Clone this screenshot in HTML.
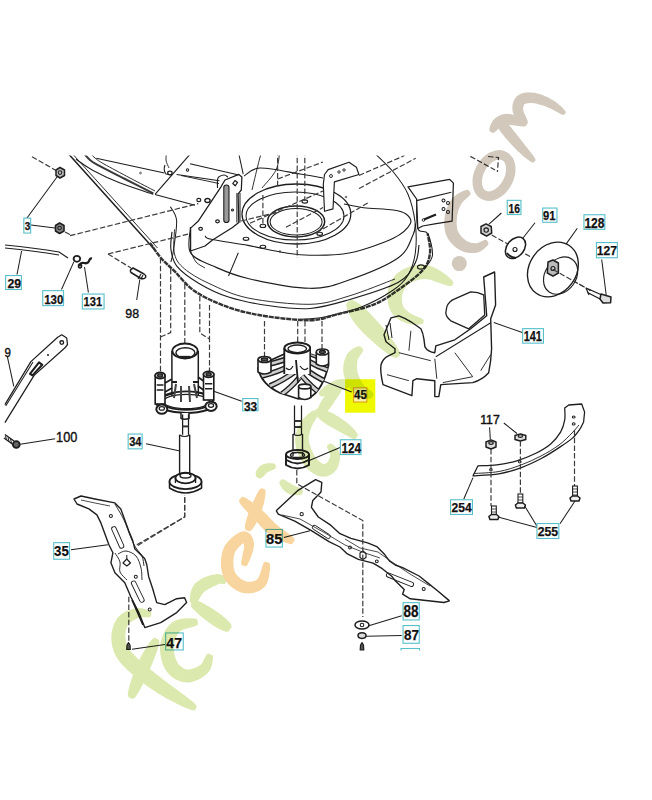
<!DOCTYPE html>
<html><head><meta charset="utf-8"><style>
html,body{margin:0;padding:0;background:#fff;width:652px;height:800px;overflow:hidden;}
svg{display:block;}
</style></head><body>
<svg width="652" height="800" viewBox="0 0 652 800">
<clipPath id="topclip"><rect x="0" y="155.5" width="652" height="700"/></clipPath>
<g clip-path="url(#topclip)">
<path d="M65,150 L155,250" fill="none" stroke="#1e1e1e" stroke-width="1.49" stroke-linejoin="round" />
<path d="M69,150 L157.5,248" fill="none" stroke="#1e1e1e" stroke-width="0.92" stroke-linejoin="round" />
<path d="M81.0,150.0 C82.5,151.7 87.0,157.4 90.0,160.0 C93.0,162.6 93.2,162.4 99.0,165.6 C104.8,168.8 116.0,174.4 125.0,179.0 C134.1,183.6 148.6,190.9 153.3,193.3" fill="none" stroke="#3a3a3a" stroke-width="2.00" stroke-linejoin="round" />
<path d="M87.0,150.0 C88.3,151.3 92.2,155.7 95.0,158.0 C97.8,160.3 98.2,160.7 104.0,164.0 C109.8,167.3 121.5,173.5 130.0,178.0 C138.5,182.5 150.8,188.8 155.0,191.0" fill="none" stroke="#1e1e1e" stroke-width="0.92" stroke-linejoin="round" />
<path d="M76.0,159.2 C78.8,161.0 85.2,166.2 92.6,170.2 C100.0,174.2 110.1,179.1 120.2,183.1 C130.3,187.1 147.8,192.3 153.3,194.2" fill="none" stroke="#1e1e1e" stroke-width="1.03" stroke-linejoin="round" />
<path d="M96.3,158.3 L164.4,173" fill="none" stroke="#1e1e1e" stroke-width="1.15" stroke-linejoin="round" />
<path d="M155,194.5 L195,205.2" fill="none" stroke="#1e1e1e" stroke-width="1.15" stroke-linejoin="round" />
<path d="M155.2,194.2 L192,152" fill="none" stroke="#1e1e1e" stroke-width="1.15" stroke-linejoin="round" />
<path d="M176.6,174.5 L219.5,180.7" fill="none" stroke="#1e1e1e" stroke-width="1.03" stroke-linejoin="round" />
<path d="M165,165 Q163,170 166,174 L172,175" fill="none" stroke="#1e1e1e" stroke-width="1.15" stroke-linejoin="round" />
<ellipse cx="169.9" cy="173" rx="2.2" ry="1.8" fill="none" stroke="#1e1e1e" stroke-width="1.265" transform="rotate(0 169.9 173)"/>
<circle cx="140.5" cy="173" r="0.9" fill="none" stroke="#1e1e1e" stroke-width="0.69"/>
<path d="M170.4,206.7 C171.4,209.0 176.1,213.4 176.6,220.6 C177.1,227.8 174.4,243.1 173.5,250.0 C172.6,256.9 171.3,260.0 170.9,262.0" fill="none" stroke="#1e1e1e" stroke-width="1.03" stroke-linejoin="round" />
<path d="M167.0,150.0 C166.8,151.7 165.7,157.0 166.0,160.0 C166.3,163.0 168.5,166.7 169.0,168.0" fill="none" stroke="#1e1e1e" stroke-width="0.92" stroke-linejoin="round" />
<path d="M190.6,228.1 L198.1,221.3 L221.3,186.3 L225,180 L238.8,174.4 L241.9,176.9 L241.3,190 L238.1,193.8 L238.8,222.5 L232.5,227.5 L212.5,240 L205,246 L190.6,251 Z" fill="#fff" stroke="#1e1e1e" stroke-width="1.26" stroke-linejoin="round" />
<rect x="223.8" y="185" width="5.2" height="37.5" rx="2.6" fill="#9a9a9a" stroke="#1e1e1e" stroke-width="1.1"/>
<path d="M236.9,193 L236.9,222.5 M240,193 L240,222.5" fill="none" stroke="#1e1e1e" stroke-width="1.03" stroke-linejoin="round" />
<path d="M232.8,183.5 L235,180.5 L237.5,182.5 L235.2,185.8 Z" fill="none" stroke="#1e1e1e" stroke-width="1.26" stroke-linejoin="round" />
<path d="M217.5,188.0 C217.6,186.3 216.9,180.2 218.0,178.0 C219.1,175.8 222.3,175.2 224.0,175.0 C225.7,174.8 227.3,176.7 228.0,177.0" fill="none" stroke="#1e1e1e" stroke-width="1.15" stroke-linejoin="round" />
<ellipse cx="207.5" cy="200.5" rx="2.6" ry="2" fill="none" stroke="#1e1e1e" stroke-width="1.38" transform="rotate(0 207.5 200.5)"/>
<ellipse cx="198.8" cy="200" rx="2" ry="1.6" fill="none" stroke="#1e1e1e" stroke-width="1.15" transform="rotate(0 198.8 200)"/>
<ellipse cx="217.5" cy="221.3" rx="1.8" ry="1.5" fill="none" stroke="#1e1e1e" stroke-width="1.265" transform="rotate(0 217.5 221.3)"/>
<ellipse cx="200.6" cy="228.8" rx="1.8" ry="1.5" fill="none" stroke="#1e1e1e" stroke-width="1.265" transform="rotate(0 200.6 228.8)"/>
<circle cx="232.5" cy="210" r="1" fill="none" stroke="#1e1e1e" stroke-width="1.035"/>
<circle cx="187.5" cy="170" r="1.2" fill="none" stroke="#1e1e1e" stroke-width="1.035"/>
<path d="M190,163.8 L238.8,175" fill="none" stroke="#1e1e1e" stroke-width="1.15" stroke-linejoin="round" />
<path d="M181,175.5 L219,183.5" fill="none" stroke="#1e1e1e" stroke-width="0.92" stroke-linejoin="round" />
<path d="M190.6,251.0 C191.5,252.8 193.6,259.2 196.0,262.0 C198.4,264.8 203.5,267.0 205.0,268.0" fill="none" stroke="#1e1e1e" stroke-width="0.92" stroke-linejoin="round" />
<path d="M371.2,150.0 C374.9,153.7 387.2,164.6 393.3,172.0 C399.4,179.4 404.3,185.6 408.0,194.2 C411.7,202.8 414.1,213.8 415.3,223.6 C416.5,233.4 416.5,244.4 415.3,253.0 C414.1,261.6 411.7,269.0 408.0,275.2 C404.3,281.4 401.1,284.7 393.3,290.0 C385.5,295.3 372.8,302.5 361.3,307.0 C349.8,311.5 334.7,314.8 324.5,316.9 C314.3,318.9 304.1,318.9 300.0,319.3" fill="none" stroke="#1e1e1e" stroke-width="1.03" stroke-linejoin="round" />
<path d="M150.0,243.0 C151.8,245.5 156.9,253.3 161.0,258.0 C165.1,262.7 169.0,265.7 174.5,271.2 C180.0,276.7 186.0,285.1 194.2,290.8 C202.4,296.5 212.6,301.4 223.6,305.5 C234.6,309.6 246.0,312.9 260.4,315.3 C274.8,317.8 297.3,320.4 310.0,320.2 C322.7,320.0 326.2,317.0 336.8,314.4 C347.4,311.8 363.4,308.7 373.6,304.6 C383.8,300.5 390.0,295.6 398.2,289.9 C406.4,284.2 417.4,276.3 422.7,270.2 C428.0,264.1 429.2,259.1 430.0,253.0 C430.8,246.9 428.0,236.7 427.6,233.4" fill="none" stroke="#333" stroke-width="2.40" stroke-linejoin="round" stroke-dasharray="5,0.8"/>
<path d="M172.0,231.9 C171.8,234.8 170.1,243.3 170.9,249.0 C171.7,254.7 172.3,260.6 177.0,266.3 C181.7,272.0 190.4,278.3 199.0,283.4 C207.6,288.5 217.0,293.3 228.5,297.0 C240.0,300.7 254.2,303.6 267.8,305.5 C281.4,307.4 296.5,309.5 310.0,308.5 C323.5,307.5 334.3,304.0 349.0,299.7 C363.7,295.4 386.9,288.6 398.0,282.5 C409.1,276.4 411.8,269.1 415.3,262.9 C418.8,256.6 418.4,248.0 419.0,245.0" fill="none" stroke="#1e1e1e" stroke-width="1.15" stroke-linejoin="round" />
<path d="M174.5,229.4 C174.5,233.5 172.8,247.4 174.5,254.0 C176.2,260.6 178.7,263.8 184.4,268.7 C190.1,273.6 198.3,278.5 208.9,283.4 C219.5,288.3 231.2,294.5 248.0,298.0 C264.9,301.5 293.2,304.6 310.0,304.3 C326.8,304.0 334.8,300.2 349.0,296.0 C363.2,291.8 387.3,281.8 395.0,279.0" fill="none" stroke="#1e1e1e" stroke-width="0.92" stroke-linejoin="round" />
<path d="M190.5,227.0 C190.5,231.3 186.6,246.2 190.5,252.8 C194.4,259.4 204.2,262.0 213.8,266.3 C223.4,270.6 232.0,274.8 248.0,278.5 C264.0,282.2 293.2,288.1 310.0,288.3 C326.8,288.6 334.3,285.1 349.0,280.0 C363.7,274.9 387.3,265.5 398.0,258.0 C408.7,250.5 410.1,240.7 413.0,235.0 C415.9,229.3 414.9,225.5 415.3,223.6" fill="none" stroke="#1e1e1e" stroke-width="1.15" stroke-linejoin="round" />
<path d="M205.0,236.0 C206.1,236.6 204.1,237.7 211.3,239.3 C218.5,240.9 235.7,243.2 248.0,245.4 C260.3,247.7 274.7,251.2 285.0,252.8 C295.3,254.4 299.3,255.2 310.0,255.2 C320.7,255.2 335.1,255.8 349.0,253.0 C362.9,250.2 383.1,243.2 393.3,238.3 C403.5,233.4 408.3,227.7 410.4,223.6 C412.5,219.5 408.9,216.3 406.0,214.0 C403.1,211.7 400.3,211.1 393.3,210.0 C386.3,208.9 372.0,208.7 363.8,207.7 C355.6,206.7 347.3,204.6 344.0,204.0" fill="none" stroke="#1e1e1e" stroke-width="1.15" stroke-linejoin="round" />
<path d="M238.3,252.8 L228.5,276" fill="none" stroke="#1e1e1e" stroke-width="1.03" stroke-linejoin="round" />
<path d="M416.6,199.0 C416.8,203.9 416.0,222.8 417.8,228.5 C419.6,234.2 425.2,229.0 427.6,233.4 C430.1,237.8 432.9,249.2 432.5,255.0 C432.1,260.8 426.2,265.8 425.0,268.0" fill="none" stroke="#1e1e1e" stroke-width="1.03" stroke-linejoin="round" />
<ellipse cx="421" cy="267" rx="3.5" ry="2.2" fill="none" stroke="#1e1e1e" stroke-width="1.15" transform="rotate(0 421 267)"/>
<path d="M238,150 L243.2,174.2" fill="none" stroke="#1e1e1e" stroke-width="1.03" stroke-linejoin="round" />
<path d="M244.0,176.0 C246.7,174.7 250.7,168.3 260.0,168.0 C269.3,167.7 289.5,172.3 300.0,174.0 C310.5,175.7 319.2,177.3 323.0,178.0" fill="none" stroke="#1e1e1e" stroke-width="1.03" stroke-linejoin="round" />
<path d="M262.0,150.0 C261.3,152.5 259.7,158.3 258.0,165.0 C256.3,171.7 253.0,185.8 252.0,190.0" fill="none" stroke="#1e1e1e" stroke-width="0.92" stroke-linejoin="round" />
<path d="M280.0,150.0 C279.3,153.3 279.0,163.7 276.0,170.0 C273.0,176.3 264.3,185.0 262.0,188.0" fill="none" stroke="#1e1e1e" stroke-width="0.92" stroke-linejoin="round" />
<ellipse cx="296.4" cy="214" rx="54.4" ry="30" fill="none" stroke="#1e1e1e" stroke-width="1.265" transform="rotate(0 296.4 214)"/>
<ellipse cx="295" cy="216" rx="49" ry="24" fill="none" stroke="#1e1e1e" stroke-width="1.035" transform="rotate(0 295 216)"/>
<ellipse cx="296.1" cy="221.4" rx="28.6" ry="15.5" fill="none" stroke="#1e1e1e" stroke-width="1.4949999999999999" transform="rotate(0 296.1 221.4)"/>
<ellipse cx="296.1" cy="221.8" rx="26" ry="13.2" fill="none" stroke="#1e1e1e" stroke-width="1.035" transform="rotate(0 296.1 221.8)"/>
<ellipse cx="262.9" cy="225.9" rx="2.8" ry="1.6" fill="none" stroke="#1e1e1e" stroke-width="1.15" transform="rotate(0 262.9 225.9)"/>
<ellipse cx="304.8" cy="201.5" rx="2.8" ry="1.6" fill="none" stroke="#1e1e1e" stroke-width="1.15" transform="rotate(0 304.8 201.5)"/>
<ellipse cx="319.7" cy="233.8" rx="2.8" ry="1.6" fill="none" stroke="#1e1e1e" stroke-width="1.15" transform="rotate(0 319.7 233.8)"/>
<ellipse cx="246" cy="238.8" rx="2.8" ry="1.6" fill="none" stroke="#1e1e1e" stroke-width="1.15" transform="rotate(0 246 238.8)"/>
<ellipse cx="262.9" cy="246.8" rx="2.8" ry="1.6" fill="none" stroke="#1e1e1e" stroke-width="1.15" transform="rotate(0 262.9 246.8)"/>
<circle cx="279.9" cy="251.4" r="0.8" fill="none" stroke="#1e1e1e" stroke-width="0.69"/>
<circle cx="346" cy="197" r="0.8" fill="none" stroke="#1e1e1e" stroke-width="0.69"/>
<path d="M324.5,174.5 L328.2,169.6 L349,162.3 L356.4,167.2 L358.9,174.5 L334.4,181.9 L333,208.9 L324.5,211.3 L323.3,184.4 Z" fill="#fff" stroke="#1e1e1e" stroke-width="1.15" stroke-linejoin="round" />
<circle cx="331" cy="176" r="1.5" fill="none" stroke="#1e1e1e" stroke-width="0.9199999999999999"/>
<circle cx="339" cy="172" r="1.2" fill="none" stroke="#1e1e1e" stroke-width="0.9199999999999999"/>
<circle cx="344" cy="170" r="1.2" fill="none" stroke="#1e1e1e" stroke-width="0.9199999999999999"/>
<path d="M408,186.8 L449.7,179.4 L453.4,183.1 L452.1,221.2 L436.2,223.6 L422.7,226 L417.8,228.5 L416.6,199 Z" fill="#fff" stroke="#1e1e1e" stroke-width="1.26" stroke-linejoin="round" />
<circle cx="443.5" cy="200.5" r="1.5" fill="none" stroke="#1e1e1e" stroke-width="1.035"/>
<circle cx="448" cy="203" r="1.5" fill="none" stroke="#1e1e1e" stroke-width="1.035"/>
<circle cx="443.5" cy="209" r="1.5" fill="none" stroke="#1e1e1e" stroke-width="1.035"/>
<circle cx="448" cy="212" r="1.5" fill="none" stroke="#1e1e1e" stroke-width="1.035"/>
<path d="M416.6,200.6 L451.3,192.2" fill="none" stroke="#1e1e1e" stroke-width="1.15" stroke-linejoin="round" />
<path d="M424,219.5 L436,214.5" fill="none" stroke="#1e1e1e" stroke-width="2.30" stroke-linejoin="round" />
<circle cx="423.5" cy="220" r="1.3" fill="none" stroke="#1e1e1e" stroke-width="0.9199999999999999"/>
<path d="M70,235.7 L198.3,203.6" fill="none" stroke="#3c3c3c" stroke-width="1.2" stroke-dasharray="5.5,2.2"/>
<path d="M108,254 L190.6,233.5 M241,221 L279,212" fill="none" stroke="#3c3c3c" stroke-width="1.2" stroke-dasharray="5.5,2.2"/>
<path d="M277.6,179 L323,162" fill="none" stroke="#3c3c3c" stroke-width="1.2" stroke-dasharray="5.5,2.2"/>
<path d="M250,223.2 L323,191 M359,175.5 L404.6,155.5" fill="none" stroke="#3c3c3c" stroke-width="1.2" stroke-dasharray="5.5,2.2"/>
<path d="M285.9,227.3 L323,207.5 M359,188.5 L415.7,158.3" fill="none" stroke="#3c3c3c" stroke-width="1.2" stroke-dasharray="5.5,2.2"/>
<path d="M316.3,232.8 L368.7,202.5" fill="none" stroke="#3c3c3c" stroke-width="1.2" stroke-dasharray="5.5,2.2"/>
<path d="M262.9,195 L262.9,226" fill="none" stroke="#3c3c3c" stroke-width="1.2" stroke-dasharray="5.5,2.2"/>
<path d="M297.2,150 L297.2,258" fill="none" stroke="#3c3c3c" stroke-width="1.2" stroke-dasharray="5.5,2.2"/>
<path d="M304.8,150 L304.8,201" fill="none" stroke="#3c3c3c" stroke-width="1.2" stroke-dasharray="5.5,2.2"/>
<path d="M277.6,150 L277.6,186" fill="none" stroke="#3c3c3c" stroke-width="1.2" stroke-dasharray="5.5,2.2"/>
</g>
<path d="M470.4,156.4 L495,170" fill="none" stroke="#3c3c3c" stroke-width="1.2" stroke-dasharray="5.5,2.2"/>
<path d="M488,156.5 L498.5,157.5 L497.4,172" fill="none" stroke="#3c3c3c" stroke-width="1.2" stroke-dasharray="5.5,2.2"/>
<path d="M32,156.7 L56.4,170.7" fill="none" stroke="#3c3c3c" stroke-width="1.2" stroke-dasharray="5.5,2.2"/>
<path d="M65,232 L72,235.7" fill="none" stroke="#3c3c3c" stroke-width="1.2" stroke-dasharray="5.5,2.2"/>
<path d="M56,170 L60,167.5 L64.5,170 L64.5,175.5 L60,178 L56,175.5 Z" fill="#bbb" stroke="#1e1e1e" stroke-width="1.49" stroke-linejoin="round" />
<circle cx="60" cy="172.6" r="1.8" fill="none" stroke="#1e1e1e" stroke-width="1.035"/>
<path d="M55.5,225.5 L59.6,223 L64,225.5 L64,231 L59.6,233.5 L55.5,231 Z" fill="#888" stroke="#1e1e1e" stroke-width="1.61" stroke-linejoin="round" />
<circle cx="59.6" cy="228" r="1.8" fill="none" stroke="#1e1e1e" stroke-width="1.035"/>
<path d="M27,218 L57,177" fill="none" stroke="#1e1e1e" stroke-width="1.03" stroke-linejoin="round" />
<path d="M31,225 L55,228" fill="none" stroke="#1e1e1e" stroke-width="1.03" stroke-linejoin="round" />
<path d="M5,245 Q35,248 59,252 L68,258" fill="none" stroke="#1e1e1e" stroke-width="1.15" stroke-linejoin="round" />
<path d="M5,248 Q35,251 59,255" fill="none" stroke="#1e1e1e" stroke-width="1.15" stroke-linejoin="round" />
<path d="M17,274.5 L21.6,251" fill="none" stroke="#1e1e1e" stroke-width="1.03" stroke-linejoin="round" />
<ellipse cx="76.9" cy="258.8" rx="3.3" ry="3" fill="none" stroke="#1e1e1e" stroke-width="1.8399999999999999" transform="rotate(0 76.9 258.8)"/>
<path d="M61.5,289.5 L73.8,261.9" fill="none" stroke="#1e1e1e" stroke-width="1.03" stroke-linejoin="round" />
<path d="M79.5,266.5 Q80,262 84,263 Q88,264 89,261 Q90,258 92,258.5" fill="none" stroke="#1e1e1e" stroke-width="2.30" stroke-linejoin="round" />
<ellipse cx="80" cy="266" rx="1.6" ry="2" fill="none" stroke="#1e1e1e" stroke-width="1.38" transform="rotate(0 80 266)"/>
<path d="M88.4,292.5 L84.5,267" fill="none" stroke="#1e1e1e" stroke-width="1.03" stroke-linejoin="round" />
<path d="M133,268 L144,274 Q147,276 145,278 Q143,279.5 140,278 L131,272.5 Q129,270 133,268 Z" fill="#fff" stroke="#1e1e1e" stroke-width="1.49" stroke-linejoin="round" />
<path d="M141,274 L138,279 M143,275 L141,279" fill="none" stroke="#1e1e1e" stroke-width="1.15" stroke-linejoin="round" />
<path d="M108,254 L131,268" fill="none" stroke="#3c3c3c" stroke-width="1.2" stroke-dasharray="5.5,2.2"/>
<path d="M136.7,300 L139.8,279.5" fill="none" stroke="#1e1e1e" stroke-width="1.03" stroke-linejoin="round" />
<path d="M4.9,404.7 L30.9,361.6 L57.7,337.2 L61.8,334.8 L66.7,338 L67.5,344.5 L65,347.8 L34.1,375.4 L4.9,422.6" fill="none" stroke="#1e1e1e" stroke-width="1.26" stroke-linejoin="round" />
<path d="M5.7,406 L31.5,364.5 L33,362" fill="none" stroke="#1e1e1e" stroke-width="1.03" stroke-linejoin="round" />
<path d="M30,373.8 L39,362.4 L42.3,364.8 L32.5,375.4 Z" fill="none" stroke="#1e1e1e" stroke-width="2.07" stroke-linejoin="round" />
<circle cx="61.8" cy="342.6" r="1.8" fill="none" stroke="#1e1e1e" stroke-width="1.38"/>
<circle cx="48" cy="355" r="0.7" fill="none" stroke="#1e1e1e" stroke-width="0.9199999999999999"/>
<path d="M7.4,356.8 L13.8,386.3" fill="none" stroke="#1e1e1e" stroke-width="1.03" stroke-linejoin="round" />
<path d="M4.9,434.5 L14,441 M4,438 L13,444.5" fill="none" stroke="#1e1e1e" stroke-width="1.38" stroke-linejoin="round" />
<path d="M5.5,436 L6.5,440 M8,437.5 L9,441.5 M10.5,439 L11.5,443" fill="none" stroke="#1e1e1e" stroke-width="1.03" stroke-linejoin="round" />
<circle cx="16.3" cy="444.5" r="3.4" fill="#666" stroke="#1e1e1e" stroke-width="1.8399999999999999"/>
<path d="M20.2,444.2 L55.2,438.7" fill="none" stroke="#1e1e1e" stroke-width="1.03" stroke-linejoin="round" />
<path d="M160.5,258 L160.5,375 M160.5,337 L170.7,332.5 L170.7,268" fill="none" stroke="#3c3c3c" stroke-width="1.2" stroke-dasharray="5.5,2.2"/>
<path d="M184.8,284 L184.8,345" fill="none" stroke="#3c3c3c" stroke-width="1.2" stroke-dasharray="5.5,2.2"/>
<path d="M199.8,296 L199.8,333 L209.5,339 L209.5,373 M209.5,305 L209.5,339" fill="none" stroke="#3c3c3c" stroke-width="1.2" stroke-dasharray="5.5,2.2"/>
<path d="M156.0,404.0 C157.5,405.0 159.9,408.5 165.0,410.0 C170.1,411.5 179.5,413.0 186.5,413.0 C193.5,413.0 202.1,411.7 207.0,410.0 C211.9,408.3 214.5,404.2 216.0,403.0" fill="none" stroke="#1e1e1e" stroke-width="2.07" stroke-linejoin="round" />
<ellipse cx="186.5" cy="400.6" rx="26.5" ry="9.2" fill="none" stroke="#1e1e1e" stroke-width="1.8399999999999999" transform="rotate(0 186.5 400.6)"/>
<ellipse cx="186.5" cy="401.5" rx="23" ry="7.2" fill="none" stroke="#1e1e1e" stroke-width="1.15" transform="rotate(0 186.5 401.5)"/>
<path d="M171.9,351 L171.9,396 M198.3,351 L198.3,395" fill="none" stroke="#1e1e1e" stroke-width="1.49" stroke-linejoin="round" />
<ellipse cx="185" cy="351" rx="12.65" ry="7.5" fill="none" stroke="#1e1e1e" stroke-width="1.8399999999999999" transform="rotate(0 185 351)"/>
<ellipse cx="185.4" cy="352.8" rx="9.5" ry="5.1" fill="none" stroke="#1e1e1e" stroke-width="1.38" transform="rotate(0 185.4 352.8)"/>
<path d="M180,357 L190,357" fill="none" stroke="#1e1e1e" stroke-width="2.30" stroke-linejoin="round" />
<path d="M176,384 L174,398" fill="none" stroke="#444" stroke-width="2.00" stroke-linejoin="round" />
<path d="M181,386 L181,402" fill="none" stroke="#444" stroke-width="2.00" stroke-linejoin="round" />
<path d="M189,386 L190,402" fill="none" stroke="#444" stroke-width="2.00" stroke-linejoin="round" />
<path d="M194,384 L197,398" fill="none" stroke="#444" stroke-width="2.00" stroke-linejoin="round" />
<path d="M172,382 L177,382 M193,382 L198,382" fill="none" stroke="#1e1e1e" stroke-width="1.84" stroke-linejoin="round" />
<path d="M165,383 L172,379 M165,392 L172,388 M203.5,381 L198,377 M203.5,390 L198,386" fill="none" stroke="#1e1e1e" stroke-width="1.72" stroke-linejoin="round" />
<path d="M165,396 L174,393 M203.5,394 L196,392" fill="none" stroke="#1e1e1e" stroke-width="1.49" stroke-linejoin="round" />
<rect x="155.2" y="375.5" width="9.800000000000011" height="28.5" fill="#fff" stroke="#1a1a1a" stroke-width="1.6"/>
<ellipse cx="160.1" cy="375.5" rx="4.900000000000006" ry="3" fill="#fff" stroke="#1e1e1e" stroke-width="1.8399999999999999" transform="rotate(0 160.1 375.5)"/>
<ellipse cx="160.1" cy="375.5" rx="2.450000000000003" ry="1.6" fill="#555" stroke="#1e1e1e" stroke-width="1.38" transform="rotate(0 160.1 375.5)"/>
<path d="M156.7,385 L163.5,385 M156.7,390 L163.5,390" fill="none" stroke="#1e1e1e" stroke-width="1.38" stroke-linejoin="round" />
<rect x="203.5" y="374.3" width="10.300000000000011" height="25.69999999999999" fill="#fff" stroke="#1a1a1a" stroke-width="1.6"/>
<ellipse cx="208.65" cy="374.3" rx="5.150000000000006" ry="3" fill="#fff" stroke="#1e1e1e" stroke-width="1.8399999999999999" transform="rotate(0 208.65 374.3)"/>
<ellipse cx="208.65" cy="374.3" rx="2.575000000000003" ry="1.6" fill="#555" stroke="#1e1e1e" stroke-width="1.38" transform="rotate(0 208.65 374.3)"/>
<path d="M205.0,383.8 L212.3,383.8 M205.0,388.8 L212.3,388.8" fill="none" stroke="#1e1e1e" stroke-width="1.38" stroke-linejoin="round" />
<ellipse cx="161.8" cy="409.2" rx="5.5" ry="4.6" fill="#fff" stroke="#1e1e1e" stroke-width="1.9549999999999998" transform="rotate(0 161.8 409.2)"/>
<ellipse cx="161.8" cy="408.4" rx="2.6" ry="1.8" fill="none" stroke="#1e1e1e" stroke-width="1.265" transform="rotate(0 161.8 408.4)"/>
<ellipse cx="211" cy="406.3" rx="5.7" ry="4.6" fill="#fff" stroke="#1e1e1e" stroke-width="1.9549999999999998" transform="rotate(0 211 406.3)"/>
<ellipse cx="211" cy="405.5" rx="2.6" ry="1.8" fill="none" stroke="#1e1e1e" stroke-width="1.265" transform="rotate(0 211 405.5)"/>
<path d="M181,413 L181,418.5 Q185,420 189,418.5 L189,413" fill="#fff" stroke="#1e1e1e" stroke-width="1.49" stroke-linejoin="round" />
<path d="M241.75,401.25 L213.75,391.25" fill="none" stroke="#1e1e1e" stroke-width="1.03" stroke-linejoin="round" />
<path d="M182.6,414.5 L182.6,434.7 M188.5,414.5 L188.5,434.7" fill="none" stroke="#1e1e1e" stroke-width="1.26" stroke-linejoin="round" />
<path d="M182.4,426.4 L188.7,426.4" fill="none" stroke="#333" stroke-width="2.00" stroke-linejoin="round" />
<path d="M179.6,434.7 L179.6,468 M189.7,434.7 L189.7,468" fill="none" stroke="#1e1e1e" stroke-width="1.38" stroke-linejoin="round" />
<path d="M179.6,435 Q184.6,438 189.7,435" fill="none" stroke="#1e1e1e" stroke-width="1.15" stroke-linejoin="round" />
<path d="M146,443.75 L180,451" fill="none" stroke="#1e1e1e" stroke-width="1.03" stroke-linejoin="round" />
<path d="M169.5,481.6 L169.5,488 Q185.5,498 201.6,488 L201.6,481.6" fill="none" stroke="#1e1e1e" stroke-width="1.49" stroke-linejoin="round" />
<ellipse cx="185.5" cy="481.6" rx="16" ry="7.5" fill="#fff" stroke="#1e1e1e" stroke-width="1.8399999999999999" transform="rotate(0 185.5 481.6)"/>
<ellipse cx="185.5" cy="478" rx="10.1" ry="5.3" fill="#fff" stroke="#1e1e1e" stroke-width="1.8399999999999999" transform="rotate(0 185.5 478)"/>
<path d="M175.4,478 L175.4,483 M195.6,478 L195.6,483" fill="none" stroke="#1e1e1e" stroke-width="1.26" stroke-linejoin="round" />
<ellipse cx="185.5" cy="475.5" rx="5.5" ry="2.5" fill="none" stroke="#1e1e1e" stroke-width="1.38" transform="rotate(0 185.5 475.5)"/>
<path d="M179.6,468 L179.6,475 M189.7,468 L189.7,475" fill="none" stroke="#1e1e1e" stroke-width="1.38" stroke-linejoin="round" />
<path d="M184.8,497 L184.8,516.8 L137,546" fill="none" stroke="#3c3c3c" stroke-width="1.2" stroke-dasharray="5.5,2.2"/>
<path d="M264.5,321 L264.5,356" fill="none" stroke="#3c3c3c" stroke-width="1.2" stroke-dasharray="5.5,2.2"/>
<path d="M297.7,321 L297.7,343" fill="none" stroke="#3c3c3c" stroke-width="1.2" stroke-dasharray="5.5,2.2"/>
<path d="M305,321 L305,343" fill="none" stroke="#3c3c3c" stroke-width="1.2" stroke-dasharray="5.5,2.2"/>
<path d="M322,321 L322,349" fill="none" stroke="#3c3c3c" stroke-width="1.2" stroke-dasharray="5.5,2.2"/>
<clipPath id="finclip"><path d="M258,368 Q261,384 280,393 L298.6,399 L310.8,397 Q323,389 328.6,365 L316.3,356 L310.2,354 L284.4,354 L271,360 Z"/></clipPath>
<path d="M258,368 Q261,384 280,393 L298.6,399 L310.8,397 Q323,389 328.6,365 L316.3,356 L310.2,354 L284.4,354 L271,360 Z" fill="#fff" stroke="#1e1e1e" stroke-width="1.72" stroke-linejoin="round" />
<g clip-path="url(#finclip)">
<path d="M262,356 Q276.0,355.0 290,350" fill="none" stroke="#1e1e1e" stroke-width="5.75" stroke-linejoin="round" />
<path d="M262,356 Q276.0,355.0 290,350" fill="none" stroke="#cdcdcd" stroke-width="2.80" stroke-linejoin="round" />
<path d="M259,366 Q275.5,363.5 292,357" fill="none" stroke="#1e1e1e" stroke-width="5.75" stroke-linejoin="round" />
<path d="M259,366 Q275.5,363.5 292,357" fill="none" stroke="#cdcdcd" stroke-width="2.80" stroke-linejoin="round" />
<path d="M262,376 Q278.0,372.0 294,364" fill="none" stroke="#1e1e1e" stroke-width="5.75" stroke-linejoin="round" />
<path d="M262,376 Q278.0,372.0 294,364" fill="none" stroke="#cdcdcd" stroke-width="2.80" stroke-linejoin="round" />
<path d="M270,386 Q283.0,380.5 296,371" fill="none" stroke="#1e1e1e" stroke-width="5.75" stroke-linejoin="round" />
<path d="M270,386 Q283.0,380.5 296,371" fill="none" stroke="#cdcdcd" stroke-width="2.80" stroke-linejoin="round" />
<path d="M282,394 Q290.5,388.0 299,378" fill="none" stroke="#1e1e1e" stroke-width="5.75" stroke-linejoin="round" />
<path d="M282,394 Q290.5,388.0 299,378" fill="none" stroke="#cdcdcd" stroke-width="2.80" stroke-linejoin="round" />
<path d="M306,352 Q319.0,358.0 332,360" fill="none" stroke="#1e1e1e" stroke-width="5.75" stroke-linejoin="round" />
<path d="M306,352 Q319.0,358.0 332,360" fill="none" stroke="#cdcdcd" stroke-width="2.80" stroke-linejoin="round" />
<path d="M306,360 Q318.5,367.5 331,371" fill="none" stroke="#1e1e1e" stroke-width="5.75" stroke-linejoin="round" />
<path d="M306,360 Q318.5,367.5 331,371" fill="none" stroke="#cdcdcd" stroke-width="2.80" stroke-linejoin="round" />
<path d="M304,368 Q315.5,377.0 327,382" fill="none" stroke="#1e1e1e" stroke-width="5.75" stroke-linejoin="round" />
<path d="M304,368 Q315.5,377.0 327,382" fill="none" stroke="#cdcdcd" stroke-width="2.80" stroke-linejoin="round" />
<path d="M302,376 Q311.0,386.5 320,393" fill="none" stroke="#1e1e1e" stroke-width="5.75" stroke-linejoin="round" />
<path d="M302,376 Q311.0,386.5 320,393" fill="none" stroke="#cdcdcd" stroke-width="2.80" stroke-linejoin="round" />
</g>
<path d="M284.4,348 L284.4,374 M310.2,348 L310.2,374" fill="none" stroke="#1e1e1e" stroke-width="1.61" stroke-linejoin="round" />
<rect x="284.4" y="348" width="25.8" height="26" fill="#fff"/>
<path d="M284.4,348 L284.4,374 M310.2,348 L310.2,374" fill="none" stroke="#1e1e1e" stroke-width="1.61" stroke-linejoin="round" />
<ellipse cx="297.3" cy="348" rx="12.9" ry="5.5" fill="#fff" stroke="#1e1e1e" stroke-width="1.8399999999999999" transform="rotate(0 297.3 348)"/>
<ellipse cx="297.3" cy="348.8" rx="9.3" ry="3.8" fill="none" stroke="#1e1e1e" stroke-width="1.38" transform="rotate(0 297.3 348.8)"/>
<path d="M296,360 L298,383" fill="none" stroke="#1e1e1e" stroke-width="1.84" stroke-linejoin="round" />
<path d="M286,368 Q290,372 293,366 M300,366 Q304,372 308,368" fill="none" stroke="#1e1e1e" stroke-width="1.15" stroke-linejoin="round" />
<path d="M258,359.5 L258,372 Q264.5,376 271,372 L271,359.5" fill="#fff" stroke="#1e1e1e" stroke-width="1.61" stroke-linejoin="round" />
<ellipse cx="264.5" cy="359.5" rx="6.5" ry="3" fill="#fff" stroke="#1e1e1e" stroke-width="1.7249999999999999" transform="rotate(0 264.5 359.5)"/>
<ellipse cx="264.5" cy="359.5" rx="3.2" ry="1.5" fill="#555" stroke="#1e1e1e" stroke-width="1.265" transform="rotate(0 264.5 359.5)"/>
<path d="M316.3,352 L316.3,364 Q322.4,368 328.6,364 L328.6,352" fill="#fff" stroke="#1e1e1e" stroke-width="1.61" stroke-linejoin="round" />
<ellipse cx="322.4" cy="352" rx="6.1" ry="3" fill="#fff" stroke="#1e1e1e" stroke-width="1.7249999999999999" transform="rotate(0 322.4 352)"/>
<ellipse cx="322.4" cy="352" rx="3" ry="1.5" fill="#555" stroke="#1e1e1e" stroke-width="1.265" transform="rotate(0 322.4 352)"/>
<path d="M298.6,386.5 L298.6,397.5 Q304.7,401.5 310.8,397.5 L310.8,386.5" fill="#fff" stroke="#1e1e1e" stroke-width="1.61" stroke-linejoin="round" />
<ellipse cx="304.7" cy="386.5" rx="6.1" ry="2.4" fill="#fff" stroke="#1e1e1e" stroke-width="1.7249999999999999" transform="rotate(0 304.7 386.5)"/>
<path d="M294.5,405.5 L294.5,434 M301.5,405.5 L301.5,434" fill="none" stroke="#1e1e1e" stroke-width="1.26" stroke-linejoin="round" />
<path d="M294.5,421 L301.5,421 M294.5,427 L301.5,427" fill="none" stroke="#333" stroke-width="1.80" stroke-linejoin="round" />
<path d="M293,434 L293,452 M302.5,434 L302.5,452" fill="none" stroke="#1e1e1e" stroke-width="1.38" stroke-linejoin="round" />
<path d="M293,434 Q297.7,437 302.5,434" fill="none" stroke="#1e1e1e" stroke-width="1.15" stroke-linejoin="round" />
<path d="M286,454.5 L286,465 Q297.5,472 309,465 L309,454.5" fill="#fff" stroke="#1e1e1e" stroke-width="1.95" stroke-linejoin="round" />
<ellipse cx="297.5" cy="454.5" rx="11.5" ry="4.5" fill="#fff" stroke="#1e1e1e" stroke-width="1.9549999999999998" transform="rotate(0 297.5 454.5)"/>
<ellipse cx="297.5" cy="455" rx="7" ry="2.6" fill="none" stroke="#1e1e1e" stroke-width="1.4949999999999999" transform="rotate(0 297.5 455)"/>
<path d="M286.5,460 Q297.5,467 308.5,460" fill="none" stroke="#1e1e1e" stroke-width="1.84" stroke-linejoin="round" />
<path d="M293,452 L293,456 M302.5,452 L302.5,456" fill="none" stroke="#1e1e1e" stroke-width="1.38" stroke-linejoin="round" />
<path d="M340.6,447.2 L308.7,460.7" fill="none" stroke="#1e1e1e" stroke-width="1.03" stroke-linejoin="round" />
<rect x="345.1" y="379.2" width="30.2" height="33.5" fill="#eef800"/>
<path d="M351.7,392 L323.4,381" fill="none" stroke="#1e1e1e" stroke-width="1.03" stroke-linejoin="round" />
<path d="M391,317.8 L398.9,315.8 Q405,318 410.9,321.8 L420.9,328.8 Q423,333 423.9,338.8 L424.9,346.8 Q428,352 434.8,352.7 L435.8,345.8 L454.8,339.8 L470.7,328.8 L486.7,315.8 L483.7,277 L494.6,272 L495.6,304.9 L490.7,318.8 L491.6,348.7 Q491,362 488.7,372.7 Q482,380 472.7,382.6 L440.8,384.6 L438.8,396.6 L434.8,396.6 L434.8,380.7 L416.9,378.7 L412.9,380.7 L411.9,395.6 L383,384.6 Q380,372 381,364.7 Q383,359 387,356.7 L395,352.7 L395,348.8 L386,341.8 L384,334.8 Z" fill="none" stroke="#1e1e1e" stroke-width="1.38" stroke-linejoin="round" />
<path d="M446.8,306.9 Q449,301 454.8,298.9 L470.7,291.9 Q478,292 483.7,294.9 L484.7,314.9 L468.7,328.8 L450.8,320.8 Q446,317 445.8,312.9 Z" fill="none" stroke="#1e1e1e" stroke-width="1.26" stroke-linejoin="round" />
<path d="M435.8,356.7 L490.7,322.8" fill="none" stroke="#1e1e1e" stroke-width="1.03" stroke-linejoin="round" />
<path d="M410.9,330.8 L408.9,350.7 M398.9,352.7 L430.8,360.7 M434.8,358.7 L436.8,378.7 M454.8,352.7 L472.7,376.7 M480.7,370.7 L490.7,354.7 M387,374.7 L408.9,380.7 M442.8,382.6 L472.7,376.7" fill="none" stroke="#1e1e1e" stroke-width="0.92" stroke-linejoin="round" />
<path d="M386,325 L389,340 M390,323 L392,338" fill="none" stroke="#1e1e1e" stroke-width="1.03" stroke-linejoin="round" />
<path d="M523,332.8 L493.8,322.6" fill="none" stroke="#1e1e1e" stroke-width="1.03" stroke-linejoin="round" />
<path d="M491.7,235 L590.6,290.6" fill="none" stroke="#3c3c3c" stroke-width="1.2" stroke-dasharray="5.5,2.2"/>
<path d="M481,226.5 L486,223.9 L491.2,226.5 L491.7,233 L486.5,236.1 L481,233 Z" fill="#cfcfcf" stroke="#1e1e1e" stroke-width="1.49" stroke-linejoin="round" />
<circle cx="486.2" cy="230" r="2.2" fill="none" stroke="#1e1e1e" stroke-width="1.15"/>
<path d="M501.4,213 L489,224.2" fill="none" stroke="#1e1e1e" stroke-width="1.03" stroke-linejoin="round" />
<ellipse cx="515.5" cy="247.8" rx="8.5" ry="12" fill="#fff" stroke="#1e1e1e" stroke-width="1.4949999999999999" transform="rotate(40 515.5 247.8)"/>
<path d="M507,253 Q511,258 516,258" fill="none" stroke="#1e1e1e" stroke-width="1.84" stroke-linejoin="round" />
<circle cx="515" cy="249.5" r="2" fill="none" stroke="#1e1e1e" stroke-width="1.15"/>
<path d="M535,222.8 L522.8,238.3" fill="none" stroke="#1e1e1e" stroke-width="1.03" stroke-linejoin="round" />
<ellipse cx="552.9" cy="269.5" rx="23.5" ry="29" fill="#fff" stroke="#1e1e1e" stroke-width="1.38" transform="rotate(35 552.9 269.5)"/>
<ellipse cx="560.6" cy="275.6" rx="15.5" ry="20" fill="none" stroke="#1e1e1e" stroke-width="1.15" transform="rotate(35 560.6 275.6)"/>
<path d="M548,262 L553,260 L558.4,263 L558.4,273 L553,276.2 L547.3,273 Z" fill="#bbb" stroke="#1e1e1e" stroke-width="1.49" stroke-linejoin="round" />
<circle cx="553" cy="268.5" r="2" fill="none" stroke="#1e1e1e" stroke-width="1.15"/>
<path d="M553,269.5 L590.6,290.6" fill="none" stroke="#3c3c3c" stroke-width="1.2" stroke-dasharray="5.5,2.2"/>
<path d="M577.3,228.3 L566.2,243.9" fill="none" stroke="#1e1e1e" stroke-width="1.03" stroke-linejoin="round" />
<path d="M588.4,289 L604,296 M587.5,292.5 L602,300" fill="none" stroke="#1e1e1e" stroke-width="1.26" stroke-linejoin="round" />
<path d="M586,288 L589,295" fill="none" stroke="#1e1e1e" stroke-width="1.15" stroke-linejoin="round" />
<path d="M601,294 L611,297 L610.6,302.8 L603,303 L600,299 Z" fill="#ddd" stroke="#1e1e1e" stroke-width="1.49" stroke-linejoin="round" />
<path d="M601.7,259.5 L606.2,295" fill="none" stroke="#1e1e1e" stroke-width="1.03" stroke-linejoin="round" />
<path d="M478.0,465.8 C481.1,465.6 490.4,465.6 496.9,464.8 C503.4,464.0 510.5,462.6 516.8,460.8 C523.1,459.0 529.1,456.6 534.8,453.8 C540.4,451.0 546.4,447.5 550.7,443.9 C555.0,440.2 558.4,435.9 560.7,431.9 C563.0,427.9 564.0,423.9 564.7,419.9 C565.4,415.9 564.7,410.0 564.7,408.0 L568.7,405 L581.7,404 L584.6,412 L583.6,421.9 L580.7,427.9 C579.4,429.6 576.4,434.6 572.7,437.9 C569.0,441.2 564.0,444.4 558.7,447.9 C553.4,451.4 547.1,455.5 540.8,458.8 C534.5,462.1 527.8,465.3 520.8,467.8 C513.8,470.3 506.9,472.5 498.9,473.8 C490.9,475.1 477.3,475.5 473.0,475.8 L478,465.8 Z" fill="#fff" stroke="#1e1e1e" stroke-width="1.26" stroke-linejoin="round" />
<path d="M474.0,473.5 C478.2,473.2 491.2,472.9 499.0,471.5 C506.8,470.1 514.0,467.6 521.0,465.0 C528.0,462.4 534.7,459.3 541.0,456.0 C547.3,452.7 553.8,448.8 559.0,445.0 C564.2,441.2 568.7,436.3 572.0,433.0 C575.3,429.7 577.8,426.3 579.0,425.0" fill="none" stroke="#1e1e1e" stroke-width="0.92" stroke-linejoin="round" />
<circle cx="490.9" cy="469.8" r="1.3" fill="none" stroke="#1e1e1e" stroke-width="1.035"/>
<circle cx="519.8" cy="461.8" r="1.3" fill="none" stroke="#1e1e1e" stroke-width="1.035"/>
<ellipse cx="573.7" cy="417" rx="1.4" ry="1.1" fill="none" stroke="#1e1e1e" stroke-width="1.035" transform="rotate(0 573.7 417)"/>
<ellipse cx="573.7" cy="423.9" rx="1.4" ry="1.1" fill="none" stroke="#1e1e1e" stroke-width="1.035" transform="rotate(0 573.7 423.9)"/>
<path d="M486,442 L491,439.9 L496,442 L496,447 L491,449 L486,447 Z" fill="#ddd" stroke="#1e1e1e" stroke-width="1.49" stroke-linejoin="round" />
<ellipse cx="491" cy="443" rx="2.2" ry="1.4" fill="none" stroke="#1e1e1e" stroke-width="1.15" transform="rotate(0 491 443)"/>
<path d="M515,435.5 L520.4,433.9 L525.8,435.5 L525.8,439.5 L520.4,441 L515,439.5 Z" fill="#ddd" stroke="#1e1e1e" stroke-width="1.49" stroke-linejoin="round" />
<ellipse cx="520.4" cy="436" rx="2.2" ry="1.3" fill="none" stroke="#1e1e1e" stroke-width="1.15" transform="rotate(0 520.4 436)"/>
<path d="M489.6,427.3 L490.3,439.5" fill="none" stroke="#1e1e1e" stroke-width="1.03" stroke-linejoin="round" />
<path d="M503.8,423 L517,433.5" fill="none" stroke="#1e1e1e" stroke-width="1.03" stroke-linejoin="round" />
<path d="M491,449 L491,506" fill="none" stroke="#3c3c3c" stroke-width="1.2" stroke-dasharray="5.5,2.2"/>
<path d="M520.4,441 L520.4,494" fill="none" stroke="#3c3c3c" stroke-width="1.2" stroke-dasharray="5.5,2.2"/>
<path d="M574.5,430 L574.5,486" fill="none" stroke="#3c3c3c" stroke-width="1.2" stroke-dasharray="5.5,2.2"/>
<rect x="491.5" y="506" width="4.8" height="9.5" fill="#fff" stroke="#1e1e1e" stroke-width="1.1"/>
<path d="M491.5,509 L496.29999999999995,509 M491.5,512 L496.29999999999995,512 M491.5,515 L496.29999999999995,515" fill="none" stroke="#1e1e1e" stroke-width="0.80" stroke-linejoin="round" />
<path d="M488.9,516.5 L491.4,514.5 L496.4,514.5 L498.9,516.5 L497.9,519.5 L489.9,519.5 Z" fill="#eee" stroke="#1e1e1e" stroke-width="1.49" stroke-linejoin="round" />
<rect x="518.0" y="494" width="4.8" height="10" fill="#fff" stroke="#1e1e1e" stroke-width="1.1"/>
<path d="M518.0,497 L522.8,497 M518.0,500 L522.8,500 M518.0,503 L522.8,503" fill="none" stroke="#1e1e1e" stroke-width="0.80" stroke-linejoin="round" />
<path d="M515.4,505 L517.9,503 L522.9,503 L525.4,505 L524.4,508 L516.4,508 Z" fill="#eee" stroke="#1e1e1e" stroke-width="1.49" stroke-linejoin="round" />
<rect x="572.6" y="486" width="4.8" height="11" fill="#fff" stroke="#1e1e1e" stroke-width="1.1"/>
<path d="M572.6,489 L577.4,489 M572.6,492 L577.4,492 M572.6,495 L577.4,495" fill="none" stroke="#1e1e1e" stroke-width="0.80" stroke-linejoin="round" />
<path d="M570,498 L572.5,496 L577.5,496 L580,498 L579,501 L571,501 Z" fill="#eee" stroke="#1e1e1e" stroke-width="1.49" stroke-linejoin="round" />
<path d="M463.7,499.2 L473,477.6" fill="none" stroke="#1e1e1e" stroke-width="1.03" stroke-linejoin="round" />
<path d="M537,527.4 L498,517" fill="none" stroke="#1e1e1e" stroke-width="1.03" stroke-linejoin="round" />
<path d="M537,526.2 L524.7,506" fill="none" stroke="#1e1e1e" stroke-width="1.03" stroke-linejoin="round" />
<path d="M560,523.7 L575,501" fill="none" stroke="#1e1e1e" stroke-width="1.03" stroke-linejoin="round" />
<path d="M74,499 L77,504 L88.9,508.9 L96.9,514.9 L100.9,522.9 L108.9,544.8 L112.9,552.8 L110.9,562.8 L114.9,572.7 L124.8,582.7 L130.8,596.7 L138.8,612.6 L144.8,627.6 L160.7,622.6 L176.7,612.6 L186.6,602.6 L184.6,597.7 L176.7,598.7 L164.7,604.6 L156.7,602.6 L152.7,588.7 L148.7,576.7 L146.8,564.8 L144.8,558.8 L134.8,548.8 L132.8,540.8 L128.8,530.9 L120.8,508.9 L114.9,502.9 L94.9,499 L81,496 Z" fill="none" stroke="#1e1e1e" stroke-width="1.38" stroke-linejoin="round" />
<path d="M81,500 L95,503 L110,506" fill="none" stroke="#1e1e1e" stroke-width="0.80" stroke-linejoin="round" />
<path d="M114.9,504.0 C116.4,506.7 121.3,514.3 124.0,520.0 C126.7,525.7 129.0,533.3 131.0,538.0 C133.0,542.7 134.2,545.0 136.0,548.0 C137.8,551.0 140.7,553.0 142.0,556.0 C143.3,559.0 143.7,564.3 144.0,566.0" fill="none" stroke="#1e1e1e" stroke-width="0.92" stroke-linejoin="round" />
<path d="M115.0,553.0 C115.8,554.5 119.2,558.8 120.0,562.0 C120.8,565.2 118.8,569.0 120.0,572.0 C121.2,575.0 125.8,578.7 127.0,580.0" fill="none" stroke="#1e1e1e" stroke-width="0.92" stroke-linejoin="round" />
<path d="M118.0,554.0 C119.3,553.5 123.0,550.7 126.0,551.0 C129.0,551.3 133.5,553.2 136.0,556.0 C138.5,558.8 140.0,564.0 141.0,568.0 C142.0,572.0 141.8,578.0 142.0,580.0" fill="none" stroke="#1e1e1e" stroke-width="0.92" stroke-linejoin="round" />
<rect x="106" y="535" width="23" height="4.5" rx="2" transform="rotate(66 117.5 537.5)" fill="none" stroke="#1e1e1e" stroke-width="0.9"/>
<rect x="126.3" y="589.4" width="23" height="4.5" rx="2" transform="rotate(64 137.8 591.6)" fill="none" stroke="#1e1e1e" stroke-width="0.9"/>
<path d="M123,563 L126.8,559 L130.5,563 L126.8,566 Z" fill="none" stroke="#1e1e1e" stroke-width="1.15" stroke-linejoin="round" />
<path d="M126.8,555 L126.8,560" fill="none" stroke="#1e1e1e" stroke-width="1.03" stroke-linejoin="round" />
<circle cx="110.9" cy="515.9" r="1.5" fill="none" stroke="#1e1e1e" stroke-width="1.035"/>
<circle cx="135.8" cy="576.7" r="1.5" fill="none" stroke="#1e1e1e" stroke-width="1.035"/>
<circle cx="149.7" cy="609.6" r="1.5" fill="none" stroke="#1e1e1e" stroke-width="1.035"/>
<path d="M132,600 L143,625" fill="none" stroke="#1e1e1e" stroke-width="1.61" stroke-linejoin="round" />
<path d="M71,549.8 L107.9,544.8" fill="none" stroke="#1e1e1e" stroke-width="1.03" stroke-linejoin="round" />
<path d="M128.8,596.7 L128.8,643" fill="none" stroke="#3c3c3c" stroke-width="1.2" stroke-dasharray="5.5,2.2"/>
<path d="M136.8,544.8 L184.6,516.9 L184.6,495" fill="none" stroke="#3c3c3c" stroke-width="1.2" stroke-dasharray="5.5,2.2"/>
<path d="M127,645 L128.5,642.5 L130,645 L130.3,649.5 L126.7,649.5 Z" fill="#555" stroke="#1e1e1e" stroke-width="1.15" stroke-linejoin="round" />
<path d="M132,649.3 L165,644.4" fill="none" stroke="#1e1e1e" stroke-width="1.03" stroke-linejoin="round" />
<path d="M276.2,510.7 C276.2,510.7 297.6,490.7 297.6,490.7 C297.6,490.7 315.6,479.7 315.6,479.7 C315.6,479.7 321.8,482.4 321.8,482.4 C321.8,482.4 321.0,492.0 321.0,492.0 C321.0,492.0 312.8,500.4 312.8,500.4 C312.8,500.4 311.4,507.3 311.4,507.3 C311.4,507.3 318.3,517.0 318.3,517.0 C318.3,517.0 330.7,525.2 330.7,525.2 C330.7,525.2 340.0,533.7 340.0,533.7 C340.0,533.7 351.0,538.3 351.0,538.3 C351.0,538.3 367.6,542.9 367.6,542.9 C367.6,542.9 376.8,546.6 376.8,546.6 C376.8,546.6 384.2,553.9 384.2,553.9 C384.2,553.9 389.7,561.3 389.7,561.3 C389.7,561.3 395.2,565.0 395.2,565.0 C395.2,565.0 402.6,567.7 402.6,567.7 C402.6,567.7 419.1,576.0 419.1,576.0 C419.1,576.0 428.3,583.4 428.3,583.4 C428.3,583.4 437.5,590.7 437.5,590.7 C437.5,590.7 449.5,600.9 449.5,600.9" fill="none" stroke="#1e1e1e" stroke-width="1.38" stroke-linejoin="round" />
<path d="M449.5,600.9 L444,602.5 L410.3,598.8 L402.6,594.2 L404.2,589.6 L395,580.4 L391.5,576 L382.3,568.7 L373.1,563.1 L358.4,559.4 L347.4,553.9 L340,547 L329.4,541.8 L311.4,530.7 L294.8,521.1 L278.3,514.2 L276.2,510.7" fill="none" stroke="#1e1e1e" stroke-width="1.38" stroke-linejoin="round" />
<path d="M282,515 L300,519 L325,533 L345,545 L365,553 L380,558" fill="none" stroke="#1e1e1e" stroke-width="0.80" stroke-linejoin="round" />
<path d="M345,539 L360,548 L378,552 L392,562 L410,574 L430,586" fill="none" stroke="#1e1e1e" stroke-width="0.80" stroke-linejoin="round" />
<rect x="311.1" y="529.8" width="20.7" height="4.2" rx="2" transform="rotate(33 321.4 531.8)" fill="none" stroke="#1e1e1e" stroke-width="0.9"/>
<rect x="385.5" y="577.6" width="29" height="4.2" rx="2" transform="rotate(22 400 579.7)" fill="none" stroke="#1e1e1e" stroke-width="0.9"/>
<path d="M360,553 L363,551 L366,553.5 L366,557.5 L363,559.5 L360,557.5 Z" fill="none" stroke="#1e1e1e" stroke-width="1.15" stroke-linejoin="round" />
<circle cx="301.7" cy="514.2" r="1.6" fill="none" stroke="#1e1e1e" stroke-width="1.035"/>
<circle cx="350" cy="547.5" r="1.4" fill="none" stroke="#1e1e1e" stroke-width="1.035"/>
<circle cx="376.8" cy="561.3" r="1.4" fill="none" stroke="#1e1e1e" stroke-width="1.035"/>
<circle cx="423.7" cy="589" r="1.5" fill="none" stroke="#1e1e1e" stroke-width="1.035"/>
<path d="M283.8,537.6 L310,530.7" fill="none" stroke="#1e1e1e" stroke-width="1.03" stroke-linejoin="round" />
<path d="M296.8,470 L296.8,483.8 L362.8,520.6 L362.8,617" fill="none" stroke="#3c3c3c" stroke-width="1.2" stroke-dasharray="5.5,2.2"/>
<ellipse cx="362" cy="625" rx="7" ry="4" fill="#fff" stroke="#1e1e1e" stroke-width="1.4949999999999999" transform="rotate(0 362 625)"/>
<circle cx="362" cy="625" r="1.8" fill="none" stroke="#1e1e1e" stroke-width="1.035"/>
<ellipse cx="362" cy="635.6" rx="4" ry="2.8" fill="#ddd" stroke="#1e1e1e" stroke-width="1.4949999999999999" transform="rotate(0 362 635.6)"/>
<path d="M360.5,645 L362,642.5 L363.5,645 L363.8,650 L360.2,650 Z" fill="#555" stroke="#1e1e1e" stroke-width="1.15" stroke-linejoin="round" />
<path d="M401.7,615.7 L368,626" fill="none" stroke="#1e1e1e" stroke-width="1.03" stroke-linejoin="round" />
<path d="M401.7,635.6 L366,636.2" fill="none" stroke="#1e1e1e" stroke-width="1.03" stroke-linejoin="round" />
<path d="M401,650.5 L401,648.5 L419.5,648.5 L419.5,650.5" fill="none" stroke="#56bfca" stroke-width="1.1"/>
<rect x="23.85" y="218.15" width="6.80" height="14.90" fill="#fff" stroke="#56bfca" stroke-width="1.1"/>
<text x="24.80" y="229.60" font-size="10.83" textLength="5.60" lengthAdjust="spacingAndGlyphs" fill="#111" stroke="#111" stroke-width="0.25" font-weight="bold" font-family="Liberation Sans">3</text>
<rect x="5.65" y="275.55" width="15.70" height="14.00" fill="#fff" stroke="#56bfca" stroke-width="1.1"/>
<text x="7.40" y="287.80" font-size="13.19" textLength="13.60" lengthAdjust="spacingAndGlyphs" fill="#111" stroke="#111" stroke-width="0.25" font-weight="bold" font-family="Liberation Sans">29</text>
<rect x="42.75" y="290.65" width="20.80" height="15.00" fill="#fff" stroke="#56bfca" stroke-width="1.1"/>
<text x="44.20" y="303.80" font-size="13.06" textLength="19.10" lengthAdjust="spacingAndGlyphs" fill="#111" stroke="#111" stroke-width="0.25" font-weight="bold" font-family="Liberation Sans">130</text>
<rect x="82.35" y="294.05" width="21.70" height="14.90" fill="#fff" stroke="#56bfca" stroke-width="1.1"/>
<text x="83.50" y="306.40" font-size="13.19" textLength="18.60" lengthAdjust="spacingAndGlyphs" fill="#111" stroke="#111" stroke-width="0.25" font-weight="bold" font-family="Liberation Sans">131</text>
<text x="125.30" y="317.70" font-size="13.19" textLength="13.80" lengthAdjust="spacingAndGlyphs" fill="#111" stroke="#111" stroke-width="0.4" font-weight="normal" font-family="Liberation Sans">98</text>
<rect x="507.25" y="200.35" width="13.70" height="14.20" fill="#fff" stroke="#56bfca" stroke-width="1.1"/>
<text x="508.60" y="213.20" font-size="13.33" textLength="11.50" lengthAdjust="spacingAndGlyphs" fill="#111" stroke="#111" stroke-width="0.25" font-weight="bold" font-family="Liberation Sans">16</text>
<rect x="542.75" y="208.05" width="14.20" height="14.20" fill="#fff" stroke="#56bfca" stroke-width="1.1"/>
<text x="543.10" y="219.90" font-size="13.33" textLength="12.50" lengthAdjust="spacingAndGlyphs" fill="#111" stroke="#111" stroke-width="0.25" font-weight="bold" font-family="Liberation Sans">91</text>
<rect x="583.95" y="214.75" width="20.90" height="14.60" fill="#fff" stroke="#56bfca" stroke-width="1.1"/>
<text x="584.40" y="227.60" font-size="14.72" textLength="20.10" lengthAdjust="spacingAndGlyphs" fill="#111" stroke="#111" stroke-width="0.25" font-weight="bold" font-family="Liberation Sans">128</text>
<rect x="596.45" y="242.55" width="20.90" height="15.20" fill="#fff" stroke="#56bfca" stroke-width="1.1"/>
<text x="596.80" y="255.40" font-size="13.33" textLength="20.20" lengthAdjust="spacingAndGlyphs" fill="#111" stroke="#111" stroke-width="0.25" font-weight="bold" font-family="Liberation Sans">127</text>
<rect x="522.65" y="328.65" width="20.80" height="14.50" fill="#fff" stroke="#56bfca" stroke-width="1.1"/>
<text x="523.70" y="341.00" font-size="13.89" textLength="18.20" lengthAdjust="spacingAndGlyphs" fill="#111" stroke="#111" stroke-width="0.25" font-weight="bold" font-family="Liberation Sans">141</text>
<rect x="242.75" y="398.55" width="15.20" height="12.20" fill="#fff" stroke="#56bfca" stroke-width="1.1"/>
<text x="244.00" y="410.60" font-size="13.06" textLength="13.20" lengthAdjust="spacingAndGlyphs" fill="#111" stroke="#111" stroke-width="0.25" font-weight="bold" font-family="Liberation Sans">33</text>
<rect x="128.15" y="434.05" width="14.00" height="14.80" fill="#fff" stroke="#56bfca" stroke-width="1.1"/>
<text x="129.20" y="445.80" font-size="11.94" textLength="12.30" lengthAdjust="spacingAndGlyphs" fill="#111" stroke="#111" stroke-width="0.25" font-weight="bold" font-family="Liberation Sans">34</text>
<rect x="353.55" y="387.75" width="13.30" height="14.30" fill="#f8f2a8" stroke="#e2a010" stroke-width="1.1"/>
<text x="354.10" y="399.40" font-size="13.19" textLength="12.70" lengthAdjust="spacingAndGlyphs" fill="#111" stroke="#111" stroke-width="0.25" font-weight="bold" font-family="Liberation Sans">45</text>
<rect x="340.35" y="439.75" width="20.60" height="14.80" fill="#fff" stroke="#56bfca" stroke-width="1.1"/>
<text x="341.40" y="452.50" font-size="14.72" textLength="19.60" lengthAdjust="spacingAndGlyphs" fill="#111" stroke="#111" stroke-width="0.25" font-weight="bold" font-family="Liberation Sans">124</text>
<text x="56.10" y="442.40" font-size="14.03" textLength="21.20" lengthAdjust="spacingAndGlyphs" fill="#111" stroke="#111" stroke-width="0.4" font-weight="normal" font-family="Liberation Sans">100</text>
<text x="4.60" y="356.80" font-size="12.78" textLength="6.40" lengthAdjust="spacingAndGlyphs" fill="#111" stroke="#111" stroke-width="0.4" font-weight="normal" font-family="Liberation Sans">9</text>
<text x="480.20" y="424.40" font-size="11.94" textLength="19.50" lengthAdjust="spacingAndGlyphs" fill="#111" stroke="#111" stroke-width="0.4" font-weight="normal" font-family="Liberation Sans">117</text>
<rect x="450.55" y="499.75" width="21.90" height="14.70" fill="#fff" stroke="#56bfca" stroke-width="1.1"/>
<text x="451.50" y="512.10" font-size="13.06" textLength="20.10" lengthAdjust="spacingAndGlyphs" fill="#111" stroke="#111" stroke-width="0.25" font-weight="bold" font-family="Liberation Sans">254</text>
<rect x="536.95" y="523.55" width="21.90" height="14.90" fill="#fff" stroke="#56bfca" stroke-width="1.1"/>
<text x="537.70" y="536.20" font-size="13.61" textLength="20.50" lengthAdjust="spacingAndGlyphs" fill="#111" stroke="#111" stroke-width="0.25" font-weight="bold" font-family="Liberation Sans">255</text>
<rect x="53.75" y="542.65" width="15.80" height="16.60" fill="#fff" stroke="#56bfca" stroke-width="1.1"/>
<text x="54.10" y="556.20" font-size="15.42" textLength="14.70" lengthAdjust="spacingAndGlyphs" fill="#111" stroke="#111" stroke-width="0.25" font-weight="bold" font-family="Liberation Sans">35</text>
<rect x="265.95" y="529.45" width="16.40" height="17.60" fill="#fff" stroke="#56bfca" stroke-width="1.1"/>
<text x="266.00" y="543.60" font-size="14.86" textLength="16.30" lengthAdjust="spacingAndGlyphs" fill="#111" stroke="#111" stroke-width="0.25" font-weight="bold" font-family="Liberation Sans">85</text>
<rect x="165.65" y="632.95" width="17.60" height="17.00" fill="#fff" stroke="#56bfca" stroke-width="1.1"/>
<text x="166.30" y="647.70" font-size="15.28" textLength="15.70" lengthAdjust="spacingAndGlyphs" fill="#111" stroke="#111" stroke-width="0.25" font-weight="bold" font-family="Liberation Sans">47</text>
<rect x="403.05" y="602.65" width="16.20" height="17.30" fill="#fff" stroke="#56bfca" stroke-width="1.1"/>
<text x="403.60" y="617.10" font-size="16.11" textLength="15.00" lengthAdjust="spacingAndGlyphs" fill="#111" stroke="#111" stroke-width="0.25" font-weight="bold" font-family="Liberation Sans">88</text>
<rect x="403.05" y="625.55" width="16.20" height="17.70" fill="#fff" stroke="#56bfca" stroke-width="1.1"/>
<text x="404.00" y="640.00" font-size="15.56" textLength="15.00" lengthAdjust="spacingAndGlyphs" fill="#111" stroke="#111" stroke-width="0.25" font-weight="bold" font-family="Liberation Sans">87</text>
<g style="mix-blend-mode:multiply">
<path d="M196.0,706.9 L194.9,704.9 L193.1,703.1 L190.8,701.1 L188.2,699.0 L185.3,696.8 L182.3,694.5 L179.1,692.2 L175.9,689.9 L172.8,687.6 L169.8,685.4 L167.0,683.4 L164.4,681.4 L162.0,679.6 L159.6,677.7 L157.2,675.8 L154.9,674.0 L152.6,672.1 L150.3,670.3 L148.1,668.5 L146.0,666.7 L144.0,665.0 L142.1,663.4 L140.4,661.8 L138.7,660.4 L137.2,659.0 L135.8,657.7 L134.6,656.4 L133.4,655.3 L132.4,654.3 L131.5,653.3 L130.7,652.3 L130.0,651.4 L129.3,650.5 L128.7,649.5 L128.1,648.6 L127.5,647.6 L127.0,646.5 L126.6,645.5 L126.2,644.5 L125.8,643.4 L125.5,642.2 L125.3,641.1 L125.0,640.0 L124.9,638.8 L124.8,637.7 L124.7,636.6 L124.6,635.5 L124.7,634.5 L124.7,633.5 L124.8,632.5 L124.9,631.5 L125.1,630.4 L125.4,629.4 L125.6,628.5 L125.9,627.5 L126.3,626.6 L126.7,625.8 L127.1,625.0 L127.5,624.3 L127.9,623.7 L128.4,623.1 L129.0,622.5 L129.8,621.8 L130.7,621.2 L131.6,620.5 L132.6,619.9 L133.7,619.3 L134.8,618.8 L135.8,618.3 L136.9,617.8 L137.9,617.4 L138.8,617.1 L139.5,616.8 L140.3,616.7 L141.3,616.6 L142.3,616.5 L143.4,616.5 L144.5,616.5 L145.6,616.5 L146.7,616.6 L147.7,616.6 L148.6,616.6 L149.5,616.4 L150.3,616.0 L150.7,613.0 L150.3,612.4 L149.7,611.9 L148.9,611.5 L148.0,611.0 L146.9,610.6 L145.8,610.1 L144.5,609.7 L143.2,609.4 L141.8,609.1 L140.3,608.9 L138.7,608.8 L137.2,608.9 L135.8,609.1 L134.4,609.4 L133.0,609.7 L131.5,610.1 L130.0,610.6 L128.5,611.2 L127.0,611.8 L125.5,612.5 L124.1,613.3 L122.7,614.2 L121.3,615.2 L120.1,616.3 L118.9,617.5 L117.9,618.8 L117.0,620.1 L116.2,621.5 L115.4,622.9 L114.7,624.3 L114.2,625.8 L113.7,627.3 L113.2,628.9 L112.9,630.4 L112.6,631.9 L112.3,633.5 L112.2,635.1 L112.1,636.6 L112.1,638.3 L112.2,639.9 L112.3,641.6 L112.5,643.3 L112.8,645.0 L113.1,646.7 L113.6,648.4 L114.1,650.1 L114.7,651.8 L115.5,653.4 L116.2,655.0 L117.1,656.5 L117.9,658.0 L118.9,659.4 L119.9,660.8 L121.0,662.2 L122.2,663.5 L123.4,664.9 L124.7,666.3 L126.1,667.7 L127.6,669.1 L129.3,670.6 L131.0,672.3 L133.0,674.0 L135.0,675.7 L137.1,677.5 L139.4,679.3 L141.7,681.1 L144.2,683.0 L146.7,684.8 L149.2,686.6 L151.8,688.4 L154.5,690.2 L157.2,692.0 L160.0,693.7 L163.2,695.6 L166.5,697.5 L170.0,699.4 L173.6,701.2 L177.1,703.0 L180.5,704.7 L183.8,706.2 L186.9,707.5 L189.7,708.6 L192.1,709.4 L194.4,709.5 Z" fill="#dce9ae" stroke="#dce9ae" stroke-width="1.5" stroke-linejoin="round"/>
<path d="M132.6,698.2 L134.3,697.2 L135.5,695.6 L136.8,693.6 L138.1,691.4 L139.5,689.0 L140.9,686.5 L142.2,683.8 L143.6,681.0 L144.9,678.2 L146.2,675.5 L147.4,672.9 L148.5,670.4 L149.6,668.0 L150.7,665.3 L151.9,662.6 L153.0,659.8 L154.1,656.9 L155.2,654.1 L156.2,651.4 L157.0,648.7 L157.7,646.3 L158.3,644.1 L158.6,642.1 L158.3,640.3 L154.7,638.5 L153.0,639.4 L151.7,640.9 L150.3,642.7 L148.9,644.8 L147.4,647.1 L145.8,649.6 L144.3,652.2 L142.8,654.9 L141.3,657.7 L140.0,660.4 L138.7,663.0 L137.5,665.6 L136.4,668.1 L135.3,670.9 L134.2,673.7 L133.2,676.7 L132.2,679.6 L131.3,682.5 L130.4,685.4 L129.7,688.0 L129.1,690.6 L128.7,692.8 L128.5,694.8 L129.0,696.6 Z" fill="#dce9ae" stroke="#dce9ae" stroke-width="1.5" stroke-linejoin="round"/>
<path d="M196.6,620.0 L195.5,619.5 L194.2,619.3 L192.6,619.2 L190.7,619.1 L188.6,619.1 L186.4,619.2 L184.1,619.3 L181.8,619.6 L179.5,620.1 L177.2,620.7 L174.9,621.7 L172.9,622.9 L171.1,624.4 L169.5,625.9 L168.1,627.6 L166.9,629.3 L165.7,631.2 L164.7,633.1 L163.8,635.1 L163.0,637.2 L162.3,639.2 L161.7,641.3 L161.3,643.4 L161.0,645.4 L160.8,647.6 L160.8,649.8 L160.9,652.0 L161.1,654.2 L161.5,656.4 L161.9,658.6 L162.5,660.7 L163.2,662.8 L163.9,664.9 L164.8,666.8 L165.7,668.7 L166.8,670.4 L168.0,672.1 L169.4,673.6 L170.8,675.0 L172.4,676.3 L174.0,677.4 L175.7,678.5 L177.4,679.4 L179.2,680.1 L181.0,680.8 L182.8,681.3 L184.7,681.6 L186.7,681.8 L188.7,681.7 L190.7,681.4 L192.7,681.0 L194.6,680.4 L196.4,679.7 L198.2,678.8 L199.9,677.9 L201.6,676.9 L203.1,675.9 L204.6,674.8 L205.9,673.6 L207.2,672.4 L208.5,670.9 L209.5,669.3 L210.2,667.6 L210.9,666.0 L211.3,664.3 L211.7,662.7 L211.9,661.2 L212.1,659.8 L212.2,658.5 L212.3,657.4 L212.2,656.5 L211.9,655.7 L208.1,654.3 L207.3,654.9 L206.7,655.8 L206.1,656.8 L205.6,658.0 L205.0,659.2 L204.4,660.4 L203.8,661.6 L203.2,662.7 L202.6,663.7 L201.9,664.5 L201.4,665.1 L200.8,665.6 L200.0,666.1 L199.0,666.7 L197.8,667.4 L196.6,668.0 L195.3,668.5 L193.9,669.0 L192.6,669.5 L191.3,669.8 L190.1,670.1 L189.0,670.2 L188.1,670.3 L187.3,670.2 L186.6,670.1 L185.7,669.9 L184.8,669.5 L183.8,669.1 L182.8,668.6 L181.8,668.0 L180.9,667.4 L180.0,666.7 L179.2,665.9 L178.4,665.2 L177.7,664.4 L177.2,663.6 L176.6,662.6 L176.1,661.5 L175.5,660.2 L175.0,658.8 L174.5,657.3 L174.1,655.7 L173.7,654.0 L173.4,652.4 L173.2,650.8 L173.0,649.3 L173.0,647.9 L173.0,646.6 L173.2,645.3 L173.4,643.8 L173.7,642.3 L174.1,640.8 L174.5,639.3 L175.1,637.9 L175.7,636.4 L176.3,635.1 L177.0,633.9 L177.7,632.8 L178.5,631.8 L179.1,631.1 L179.9,630.5 L180.9,629.8 L182.3,629.2 L184.0,628.6 L185.8,628.0 L187.7,627.5 L189.6,626.9 L191.5,626.4 L193.3,626.0 L195.0,625.4 L196.4,624.9 L197.4,624.0 Z" fill="#dce9ae" stroke="#dce9ae" stroke-width="1.5" stroke-linejoin="round"/>
<path d="M230.9,626.7 L230.6,625.0 L229.5,623.5 L228.2,622.0 L226.7,620.4 L224.9,618.8 L223.0,617.2 L221.1,615.6 L219.0,614.0 L216.9,612.6 L215.0,611.3 L213.1,610.0 L211.4,609.0 L209.9,608.0 L208.2,607.0 L206.6,606.1 L205.1,605.2 L203.5,604.3 L202.0,603.5 L200.5,602.8 L199.2,602.1 L197.9,601.6 L196.7,601.1 L195.6,600.8 L194.4,601.0 L191.6,605.0 L191.8,606.2 L192.4,607.1 L193.2,608.1 L194.2,609.1 L195.3,610.2 L196.4,611.3 L197.7,612.5 L199.0,613.7 L200.4,614.9 L201.8,616.1 L203.3,617.3 L204.8,618.4 L206.3,619.7 L208.1,621.0 L210.1,622.4 L212.1,623.8 L214.3,625.3 L216.4,626.6 L218.6,627.8 L220.8,628.9 L222.8,629.8 L224.7,630.5 L226.3,631.0 L228.1,630.7 Z" fill="#dce9ae" stroke="#dce9ae" stroke-width="1.5" stroke-linejoin="round"/>
<path d="M194.4,603.5 L195.6,603.1 L196.5,602.1 L197.2,601.1 L197.9,599.9 L198.7,598.7 L199.4,597.4 L200.1,596.2 L200.8,595.0 L201.5,593.9 L202.2,593.0 L202.8,592.2 L203.4,591.7 L204.1,591.1 L205.0,590.5 L206.2,589.7 L207.4,588.9 L208.8,588.1 L210.2,587.4 L211.7,586.6 L213.1,585.9 L214.4,585.2 L215.7,584.6 L216.8,584.1 L217.7,583.6 L218.2,583.4 L218.7,583.2 L219.1,583.1 L219.6,583.0 L220.1,583.0 L220.7,583.0 L221.3,583.0 L222.0,583.1 L222.6,583.2 L223.3,583.3 L224.1,583.3 L224.8,582.9 L225.8,580.1 L225.8,579.4 L225.6,579.0 L225.3,578.5 L224.8,577.9 L224.2,577.3 L223.4,576.7 L222.5,576.2 L221.4,575.6 L220.2,575.2 L218.8,574.9 L217.3,574.8 L215.7,575.0 L214.2,575.2 L212.7,575.5 L211.1,575.9 L209.3,576.4 L207.5,577.0 L205.7,577.7 L203.9,578.5 L202.1,579.4 L200.3,580.4 L198.7,581.5 L197.1,582.7 L195.6,584.1 L194.3,585.7 L193.3,587.5 L192.4,589.3 L191.8,591.1 L191.3,592.8 L191.0,594.6 L190.8,596.2 L190.6,597.8 L190.6,599.2 L190.7,600.4 L190.9,601.4 L191.6,602.5 Z" fill="#dce9ae" stroke="#dce9ae" stroke-width="1.5" stroke-linejoin="round"/>
<path d="M245.9,565.5 L246.7,564.7 L247.3,563.5 L248.0,562.0 L248.8,560.3 L249.6,558.5 L250.3,556.5 L251.1,554.5 L251.7,552.5 L252.3,550.5 L252.8,548.5 L253.1,546.7 L253.3,544.9 L253.2,543.3 L253.0,541.8 L252.7,540.4 L252.3,539.0 L251.7,537.6 L251.0,536.3 L250.0,535.0 L248.8,533.9 L247.3,532.9 L245.6,532.3 L243.6,532.1 L241.7,532.4 L240.0,533.0 L238.5,533.8 L237.0,534.7 L235.4,535.8 L233.8,537.0 L232.2,538.4 L230.6,539.9 L229.0,541.5 L227.6,543.2 L226.2,545.0 L225.0,547.0 L224.1,549.1 L223.3,551.2 L222.8,553.3 L222.3,555.5 L222.0,557.8 L221.8,560.2 L221.7,562.5 L221.8,564.9 L221.9,567.3 L222.2,569.6 L222.6,571.8 L223.2,574.0 L223.9,576.1 L224.9,578.1 L226.1,580.0 L227.4,581.8 L228.8,583.4 L230.3,584.9 L232.0,586.3 L233.6,587.6 L235.4,588.8 L237.1,589.8 L238.9,590.7 L240.8,591.5 L242.6,592.0 L244.5,592.4 L246.4,592.6 L248.3,592.7 L250.3,592.6 L252.2,592.3 L254.1,591.9 L256.0,591.3 L257.8,590.6 L259.6,589.8 L261.3,588.7 L262.8,587.5 L264.3,586.1 L265.6,584.2 L266.6,582.2 L267.4,580.1 L267.9,578.0 L268.4,575.8 L268.7,573.6 L269.0,571.4 L269.2,569.4 L269.3,567.5 L269.3,565.9 L269.3,564.6 L268.9,563.5 L265.1,562.5 L264.2,563.5 L263.7,564.8 L263.1,566.4 L262.5,568.2 L262.0,570.0 L261.4,571.9 L260.8,573.8 L260.1,575.6 L259.5,577.2 L258.8,578.5 L258.2,579.4 L257.7,579.9 L257.1,580.4 L256.3,580.9 L255.4,581.3 L254.3,581.7 L253.2,582.0 L252.0,582.2 L250.8,582.4 L249.6,582.5 L248.4,582.5 L247.3,582.4 L246.3,582.2 L245.4,582.0 L244.5,581.6 L243.5,581.1 L242.4,580.5 L241.2,579.8 L240.0,579.0 L238.9,578.0 L237.8,577.0 L236.8,576.0 L235.9,574.9 L235.2,573.9 L234.5,572.9 L234.1,571.9 L233.7,570.8 L233.3,569.4 L233.0,567.9 L232.8,566.2 L232.7,564.4 L232.6,562.6 L232.7,560.7 L232.8,558.9 L233.0,557.2 L233.3,555.6 L233.6,554.1 L233.9,552.9 L234.4,551.9 L235.0,550.7 L235.8,549.5 L236.8,548.2 L237.9,547.0 L239.1,545.8 L240.3,544.6 L241.4,543.6 L242.5,542.8 L243.4,542.1 L244.1,541.7 L244.3,541.6 L244.0,541.6 L243.6,541.5 L243.3,541.4 L243.2,541.3 L243.2,541.3 L243.4,541.5 L243.7,541.8 L243.9,542.3 L244.2,542.9 L244.4,543.6 L244.6,544.4 L244.7,545.1 L244.8,545.9 L244.7,547.2 L244.5,548.8 L244.2,550.6 L243.8,552.5 L243.4,554.5 L243.0,556.5 L242.6,558.4 L242.3,560.2 L242.0,561.9 L241.9,563.3 L242.1,564.5 Z" fill="#f8d59e" stroke="#f8d59e" stroke-width="1.5" stroke-linejoin="round"/>
<path d="M239.7,500.5 L240.0,501.9 L240.8,503.2 L241.9,504.7 L243.2,506.2 L244.6,507.9 L246.1,509.6 L247.7,511.4 L249.3,513.1 L250.9,514.8 L252.5,516.4 L254.0,518.0 L255.3,519.3 L256.5,520.6 L257.7,521.8 L258.8,523.1 L259.9,524.3 L261.0,525.6 L262.2,526.8 L263.4,528.1 L264.6,529.3 L265.9,530.6 L267.3,531.8 L268.8,533.0 L270.4,534.2 L272.1,535.3 L274.0,536.5 L276.0,537.5 L278.0,538.6 L280.0,539.5 L282.1,540.4 L284.1,541.3 L286.0,542.0 L287.7,542.6 L289.3,543.1 L290.7,543.4 L292.0,543.2 L294.0,539.8 L293.4,538.5 L292.4,537.5 L291.1,536.4 L289.6,535.3 L288.0,534.1 L286.3,532.9 L284.6,531.6 L282.9,530.4 L281.2,529.2 L279.5,528.0 L278.1,526.9 L276.8,525.8 L275.6,524.8 L274.5,523.8 L273.4,522.7 L272.4,521.6 L271.3,520.5 L270.2,519.3 L269.1,518.1 L268.0,516.9 L266.8,515.6 L265.5,514.3 L264.1,513.0 L262.7,511.7 L261.2,510.3 L259.5,508.9 L257.7,507.4 L255.9,506.0 L254.0,504.5 L252.1,503.1 L250.2,501.7 L248.4,500.5 L246.7,499.4 L245.2,498.4 L243.8,497.7 L242.3,497.5 Z" fill="#f8d59e" stroke="#f8d59e" stroke-width="1.5" stroke-linejoin="round"/>
<path d="M261.6,489.0 L260.4,489.8 L259.5,490.9 L258.7,492.3 L257.8,493.9 L256.9,495.7 L256.0,497.5 L255.1,499.5 L254.2,501.4 L253.3,503.4 L252.5,505.3 L251.8,507.1 L251.1,508.8 L250.4,510.5 L249.7,512.3 L248.9,514.1 L248.3,516.0 L247.6,518.0 L247.1,519.9 L246.6,521.7 L246.1,523.5 L245.8,525.2 L245.7,526.7 L245.6,528.1 L246.2,529.4 L249.0,530.6 L250.3,530.1 L251.3,529.1 L252.3,527.9 L253.3,526.6 L254.3,525.0 L255.3,523.4 L256.3,521.6 L257.3,519.8 L258.1,517.9 L258.9,516.0 L259.7,514.2 L260.3,512.4 L261.0,510.5 L261.6,508.6 L262.2,506.5 L262.8,504.4 L263.3,502.3 L263.8,500.2 L264.2,498.1 L264.5,496.2 L264.8,494.4 L264.9,492.7 L264.9,491.3 L264.4,490.0 Z" fill="#f8d59e" stroke="#f8d59e" stroke-width="1.5" stroke-linejoin="round"/>
<path d="M258.8,477.6 L260.0,477.7 L260.8,477.4 L261.5,476.9 L262.2,476.4 L262.9,475.9 L263.5,475.2 L264.1,474.6 L264.6,474.0 L265.1,473.4 L265.5,472.9 L265.8,472.5 L266.1,472.3 L266.5,472.0 L267.0,471.7 L267.8,471.3 L268.6,470.9 L269.6,470.5 L270.5,470.1 L271.5,469.7 L272.5,469.2 L273.3,468.8 L274.1,468.3 L274.8,467.8 L275.2,467.0 L274.8,465.0 L274.1,464.4 L273.4,464.2 L272.5,464.1 L271.5,463.9 L270.4,463.9 L269.2,463.9 L268.0,464.0 L266.8,464.1 L265.5,464.4 L264.3,464.7 L263.1,465.1 L261.9,465.7 L260.8,466.5 L259.8,467.4 L259.0,468.3 L258.2,469.2 L257.6,470.1 L257.1,471.1 L256.7,472.1 L256.5,473.1 L256.4,474.0 L256.4,474.8 L256.6,475.5 L257.2,476.4 Z" fill="#dce9ae" stroke="#dce9ae" stroke-width="1.5" stroke-linejoin="round"/>
<path d="M315.3,412.3 L315.4,413.6 L316.0,414.5 L316.8,415.4 L317.7,416.4 L318.7,417.3 L319.8,418.3 L321.0,419.3 L322.2,420.2 L323.4,421.2 L324.7,422.1 L325.9,422.9 L327.2,423.8 L328.4,424.6 L329.7,425.4 L331.1,426.2 L332.5,427.0 L333.9,427.8 L335.4,428.6 L336.8,429.4 L338.2,430.2 L339.6,431.0 L340.9,431.7 L342.1,432.3 L343.3,432.9 L344.4,433.5 L345.4,434.1 L346.5,434.7 L347.6,435.3 L348.6,435.9 L349.6,436.5 L350.6,437.0 L351.6,437.4 L352.5,437.8 L353.3,438.1 L354.1,438.3 L355.0,438.2 L357.0,435.8 L357.0,434.9 L356.7,434.2 L356.2,433.4 L355.7,432.6 L355.1,431.7 L354.4,430.8 L353.6,429.9 L352.7,428.9 L351.8,427.9 L350.8,427.0 L349.8,426.0 L348.7,425.1 L347.6,424.1 L346.4,423.2 L345.2,422.2 L343.9,421.3 L342.5,420.3 L341.1,419.4 L339.7,418.4 L338.3,417.5 L336.9,416.6 L335.5,415.8 L334.2,415.0 L332.8,414.2 L331.5,413.5 L330.1,412.8 L328.6,412.2 L327.1,411.5 L325.7,411.0 L324.2,410.5 L322.8,410.0 L321.4,409.6 L320.2,409.4 L319.0,409.2 L317.9,409.2 L316.7,409.7 Z" fill="#dde9b3" stroke="#dde9b3" stroke-width="1.5" stroke-linejoin="round"/>
<path d="M314.8,411.1 L313.7,411.1 L312.8,411.6 L311.7,412.2 L310.6,413.0 L309.4,413.9 L308.2,414.9 L307.0,416.1 L305.7,417.2 L304.5,418.5 L303.4,419.9 L302.3,421.3 L301.4,422.7 L300.6,424.0 L299.9,425.3 L299.2,426.6 L298.6,428.0 L297.9,429.5 L297.4,431.0 L296.9,432.6 L296.5,434.3 L296.1,436.0 L295.9,437.8 L295.8,439.6 L295.9,441.5 L296.0,443.4 L296.4,445.4 L296.8,447.3 L297.3,449.3 L297.9,451.2 L298.6,453.1 L299.4,455.0 L300.2,456.8 L301.0,458.6 L301.9,460.3 L302.8,461.9 L303.8,463.4 L304.9,464.9 L306.0,466.3 L307.2,467.6 L308.4,468.8 L309.7,470.0 L311.0,471.0 L312.4,472.0 L313.7,472.9 L315.1,473.7 L316.4,474.4 L317.8,475.0 L319.3,475.5 L320.8,475.8 L322.4,476.0 L324.0,476.0 L325.4,475.8 L326.9,475.5 L328.2,475.1 L329.5,474.5 L330.7,473.9 L331.8,473.2 L332.9,472.3 L333.9,471.5 L334.8,470.5 L335.6,469.4 L336.4,468.2 L337.0,466.9 L337.6,465.6 L338.0,464.3 L338.4,462.9 L338.8,461.6 L339.0,460.2 L339.2,458.8 L339.2,457.4 L339.2,456.0 L339.1,454.6 L338.7,453.1 L338.1,451.7 L337.4,450.4 L336.6,449.3 L335.8,448.3 L334.9,447.3 L334.0,446.5 L333.2,445.8 L332.4,445.1 L331.6,444.6 L331.0,444.3 L330.2,444.2 L327.8,445.8 L327.6,446.7 L327.9,447.5 L328.3,448.4 L328.7,449.3 L329.2,450.2 L329.6,451.2 L330.1,452.1 L330.4,453.0 L330.7,453.8 L330.9,454.5 L331.0,455.1 L330.9,455.4 L330.9,455.9 L330.7,456.6 L330.5,457.4 L330.2,458.2 L329.9,459.1 L329.6,459.9 L329.2,460.8 L328.7,461.6 L328.3,462.3 L327.9,462.8 L327.5,463.3 L327.2,463.5 L326.9,463.7 L326.5,464.0 L326.1,464.2 L325.7,464.4 L325.2,464.6 L324.8,464.7 L324.4,464.8 L324.0,464.8 L323.6,464.8 L323.3,464.7 L323.0,464.6 L322.7,464.5 L322.3,464.3 L321.7,464.0 L321.0,463.6 L320.2,463.0 L319.4,462.4 L318.6,461.7 L317.8,461.0 L317.0,460.2 L316.2,459.3 L315.5,458.4 L314.8,457.5 L314.2,456.6 L313.6,455.6 L312.9,454.4 L312.3,453.0 L311.6,451.6 L311.0,450.2 L310.4,448.6 L309.8,447.1 L309.4,445.6 L308.9,444.2 L308.6,442.8 L308.3,441.6 L308.1,440.5 L308.0,439.5 L308.0,438.5 L308.0,437.4 L308.1,436.4 L308.3,435.3 L308.5,434.2 L308.8,433.1 L309.1,432.0 L309.4,430.8 L309.8,429.6 L310.2,428.4 L310.6,427.3 L311.0,426.3 L311.5,425.2 L312.1,423.9 L312.8,422.7 L313.5,421.4 L314.3,420.1 L315.1,418.8 L315.8,417.5 L316.4,416.3 L316.9,415.2 L317.3,414.1 L317.2,412.9 Z" fill="#dde9b3" stroke="#dde9b3" stroke-width="1.5" stroke-linejoin="round"/>
<path d="M360.3,347.3 L359.3,347.0 L358.5,347.1 L357.5,347.4 L356.5,347.8 L355.3,348.3 L354.2,348.9 L352.9,349.7 L351.7,350.5 L350.5,351.5 L349.3,352.6 L348.2,354.0 L347.3,355.4 L346.6,356.8 L346.0,358.2 L345.5,359.7 L345.0,361.2 L344.7,362.7 L344.4,364.3 L344.1,365.9 L344.0,367.6 L344.0,369.2 L344.0,370.9 L344.2,372.6 L344.4,374.2 L344.8,375.9 L345.3,377.5 L345.8,379.1 L346.5,380.7 L347.2,382.3 L348.0,383.9 L348.8,385.4 L349.8,386.9 L350.8,388.3 L351.9,389.7 L353.0,390.9 L354.3,392.2 L355.7,393.4 L357.3,394.4 L358.9,395.2 L360.6,396.0 L362.2,396.5 L363.8,397.0 L365.4,397.4 L366.8,397.7 L368.2,397.9 L369.3,397.9 L370.4,397.9 L371.4,397.3 L372.8,394.7 L372.5,393.4 L371.7,392.6 L370.8,391.7 L369.8,390.9 L368.7,390.0 L367.5,389.2 L366.4,388.3 L365.3,387.5 L364.3,386.6 L363.5,385.8 L362.8,385.1 L362.3,384.4 L361.8,383.7 L361.2,382.7 L360.7,381.7 L360.1,380.7 L359.5,379.5 L359.0,378.4 L358.5,377.2 L358.1,376.0 L357.7,374.9 L357.3,373.8 L357.0,372.7 L356.8,371.8 L356.6,370.8 L356.4,369.8 L356.3,368.8 L356.3,367.7 L356.2,366.6 L356.2,365.5 L356.3,364.5 L356.4,363.4 L356.5,362.4 L356.6,361.4 L356.8,360.5 L356.9,359.8 L357.0,359.2 L357.3,358.6 L357.7,357.8 L358.2,357.0 L358.8,356.1 L359.4,355.1 L360.1,354.2 L360.8,353.3 L361.4,352.4 L361.9,351.5 L362.4,350.6 L362.3,349.5 Z" fill="#dde9b3" stroke="#dde9b3" stroke-width="1.5" stroke-linejoin="round"/>
<path d="M320.5,395.3 L321.9,395.8 L323.3,395.7 L324.9,395.3 L326.7,394.9 L328.5,394.3 L330.4,393.6 L332.2,392.9 L334.1,392.2 L335.8,391.5 L337.4,390.8 L338.8,390.3 L339.9,389.8 L340.9,389.5 L341.9,389.1 L342.8,388.8 L343.8,388.5 L344.8,388.1 L345.8,387.8 L346.8,387.5 L347.7,387.1 L348.6,386.7 L349.4,386.3 L350.1,385.8 L350.7,384.7 L350.5,382.7 L349.9,381.7 L349.3,381.3 L348.5,380.9 L347.6,380.5 L346.5,380.2 L345.4,380.0 L344.1,379.8 L342.8,379.7 L341.3,379.7 L339.8,379.9 L338.3,380.1 L336.7,380.6 L335.1,381.2 L333.4,382.0 L331.6,382.9 L329.9,383.9 L328.1,385.0 L326.4,386.2 L324.8,387.4 L323.3,388.6 L321.9,389.8 L320.8,391.0 L319.9,392.1 L319.5,393.5 Z" fill="#dde9b3" stroke="#dde9b3" stroke-width="1.5" stroke-linejoin="round"/>
<path d="M319.2,416.4 L320.9,416.2 L322.2,415.3 L323.5,414.2 L324.9,412.8 L326.3,411.3 L327.7,409.7 L329.1,408.0 L330.4,406.3 L331.6,404.6 L332.7,403.1 L333.6,401.6 L334.4,400.4 L335.1,399.3 L335.8,398.3 L336.5,397.3 L337.2,396.3 L337.9,395.3 L338.5,394.4 L339.1,393.5 L339.6,392.6 L340.1,391.8 L340.5,390.9 L340.8,390.1 L340.6,389.0 L339.2,387.6 L338.2,387.3 L337.4,387.5 L336.5,387.7 L335.6,388.1 L334.7,388.5 L333.6,389.1 L332.6,389.8 L331.4,390.5 L330.3,391.4 L329.2,392.3 L328.1,393.4 L327.0,394.6 L325.8,395.9 L324.7,397.4 L323.5,399.1 L322.4,400.9 L321.3,402.9 L320.2,404.8 L319.3,406.8 L318.5,408.7 L317.9,410.6 L317.4,412.3 L317.1,413.8 L317.6,415.4 Z" fill="#dde9b3" stroke="#dde9b3" stroke-width="1.5" stroke-linejoin="round"/>
<path d="M347.8,302.9 L347.1,304.8 L347.2,306.3 L347.6,307.8 L348.1,309.5 L348.7,311.3 L349.5,313.0 L350.4,314.9 L351.4,316.7 L352.4,318.5 L353.5,320.2 L354.6,321.9 L355.8,323.4 L356.9,324.9 L358.1,326.2 L359.3,327.5 L360.5,328.8 L361.7,330.1 L363.0,331.4 L364.2,332.6 L365.5,333.9 L366.9,335.2 L368.3,336.6 L369.8,338.0 L371.3,339.4 L373.0,341.0 L375.0,342.7 L377.1,344.6 L379.4,346.5 L381.7,348.4 L384.0,350.2 L386.4,352.0 L388.7,353.6 L390.8,355.0 L392.9,356.2 L394.8,357.0 L396.9,357.0 L399.1,355.0 L399.2,352.8 L398.4,350.9 L397.3,348.8 L396.0,346.6 L394.5,344.2 L392.8,341.8 L391.1,339.4 L389.3,336.9 L387.5,334.6 L385.8,332.4 L384.2,330.4 L382.7,328.6 L381.3,327.0 L380.0,325.4 L378.7,323.9 L377.4,322.5 L376.2,321.2 L375.0,319.9 L373.9,318.6 L372.8,317.4 L371.6,316.2 L370.5,315.0 L369.4,313.8 L368.2,312.6 L367.0,311.4 L365.6,310.1 L364.2,308.8 L362.7,307.5 L361.2,306.2 L359.6,305.0 L358.1,303.8 L356.5,302.8 L355.0,301.9 L353.6,301.2 L352.1,300.8 L350.2,301.1 Z" fill="#dde9b3" stroke="#dde9b3" stroke-width="1.5" stroke-linejoin="round"/>
<path d="M452.7,283.1 L452.1,281.4 L450.8,280.0 L449.2,278.5 L447.4,276.9 L445.3,275.2 L443.0,273.5 L440.6,271.9 L438.0,270.3 L435.4,268.9 L432.8,267.7 L430.1,266.6 L427.4,265.9 L424.8,265.6 L422.3,265.4 L419.8,265.5 L417.3,265.7 L414.9,266.1 L412.6,266.6 L410.3,267.3 L408.2,268.0 L406.1,268.8 L404.1,269.7 L402.3,270.7 L400.6,271.8 L398.8,273.0 L397.2,274.4 L395.7,275.9 L394.4,277.5 L393.3,279.1 L392.3,280.8 L391.4,282.5 L390.7,284.2 L390.0,285.9 L389.5,287.5 L389.0,289.2 L388.6,290.8 L388.3,292.6 L388.2,294.4 L388.1,296.3 L388.2,298.1 L388.3,299.9 L388.6,301.7 L388.9,303.5 L389.3,305.2 L389.8,306.9 L390.4,308.5 L391.1,310.0 L391.8,311.6 L392.7,313.0 L393.8,314.4 L394.9,315.6 L396.1,316.7 L397.3,317.7 L398.5,318.5 L399.8,319.3 L401.1,320.0 L402.3,320.7 L403.6,321.2 L404.8,321.8 L406.1,322.3 L407.6,322.8 L409.1,323.2 L410.7,323.5 L412.3,323.7 L413.9,323.8 L415.4,323.9 L416.9,323.9 L418.3,323.9 L419.6,323.8 L420.8,323.6 L421.7,323.4 L422.6,322.8 L423.0,320.8 L422.4,319.9 L421.6,319.3 L420.5,318.7 L419.4,318.2 L418.1,317.7 L416.8,317.2 L415.5,316.6 L414.2,316.1 L413.0,315.5 L411.9,315.0 L410.9,314.5 L410.1,313.9 L409.2,313.3 L408.3,312.7 L407.4,312.0 L406.6,311.4 L405.8,310.7 L405.1,310.1 L404.4,309.4 L403.8,308.7 L403.3,308.1 L402.9,307.5 L402.6,306.9 L402.4,306.2 L402.1,305.5 L401.9,304.6 L401.7,303.6 L401.5,302.5 L401.3,301.4 L401.2,300.2 L401.2,299.0 L401.2,297.8 L401.3,296.7 L401.4,295.6 L401.5,294.7 L401.8,293.8 L402.1,292.8 L402.4,291.7 L402.8,290.7 L403.3,289.7 L403.8,288.7 L404.3,287.7 L404.9,286.8 L405.5,286.0 L406.1,285.3 L406.8,284.6 L407.5,284.0 L408.2,283.4 L409.2,282.8 L410.4,282.2 L411.8,281.5 L413.2,280.9 L414.7,280.3 L416.2,279.8 L417.8,279.3 L419.5,278.9 L421.1,278.6 L422.6,278.4 L424.2,278.3 L425.6,278.3 L427.1,278.4 L429.0,278.8 L431.2,279.4 L433.5,280.1 L436.0,281.0 L438.6,281.9 L441.1,282.8 L443.6,283.7 L445.9,284.4 L448.1,285.0 L450.0,285.3 L451.9,284.9 Z" fill="#dde9b3" stroke="#dde9b3" stroke-width="1.5" stroke-linejoin="round"/>
<path d="M280.3,481.7 L280.1,482.7 L280.3,483.5 L280.6,484.4 L281.1,485.4 L281.6,486.3 L282.3,487.3 L283.0,488.3 L283.8,489.3 L284.8,490.3 L285.8,491.2 L286.9,492.0 L288.1,492.7 L289.3,493.3 L290.6,493.7 L291.9,494.1 L293.3,494.3 L294.6,494.5 L295.9,494.5 L297.1,494.5 L298.3,494.4 L299.3,494.3 L300.2,494.0 L301.0,493.7 L301.8,493.0 L302.2,491.0 L301.8,490.0 L301.1,489.4 L300.2,488.9 L299.3,488.4 L298.3,487.9 L297.3,487.5 L296.2,487.1 L295.2,486.6 L294.2,486.3 L293.3,485.9 L292.6,485.6 L291.9,485.3 L291.4,485.0 L290.7,484.5 L289.9,484.0 L289.0,483.5 L288.2,482.9 L287.2,482.3 L286.3,481.7 L285.4,481.2 L284.5,480.7 L283.6,480.3 L282.7,480.1 L281.7,480.3 Z" fill="#dde9b3" stroke="#dde9b3" stroke-width="1.5" stroke-linejoin="round"/>
<circle cx="459.3" cy="263.6" r="7.5" fill="#d2c9bc" stroke="#1e1e1e" stroke-width="0.0"/>
<path d="M468.1,190.8 L467.2,190.6 L466.3,190.8 L465.2,191.1 L464.1,191.5 L462.8,192.0 L461.4,192.6 L460.1,193.3 L458.7,194.1 L457.3,195.0 L455.9,196.0 L454.6,197.1 L453.5,198.3 L452.5,199.5 L451.6,200.7 L450.7,202.0 L449.9,203.4 L449.2,204.7 L448.5,206.2 L447.9,207.6 L447.3,209.1 L446.8,210.6 L446.4,212.1 L446.0,213.6 L445.7,215.2 L445.5,216.7 L445.2,218.3 L445.1,219.9 L445.0,221.5 L444.9,223.2 L445.0,224.9 L445.1,226.6 L445.3,228.3 L445.5,230.0 L445.9,231.7 L446.3,233.4 L446.9,235.0 L447.7,236.6 L448.5,238.1 L449.4,239.5 L450.4,240.9 L451.5,242.2 L452.6,243.4 L453.7,244.6 L454.9,245.6 L456.1,246.7 L457.4,247.6 L458.6,248.4 L459.9,249.2 L461.2,249.9 L462.6,250.5 L464.0,251.0 L465.4,251.5 L466.9,251.8 L468.3,252.0 L469.7,252.2 L471.1,252.3 L472.5,252.3 L473.9,252.3 L475.2,252.2 L476.6,251.9 L478.0,251.5 L479.4,251.0 L480.7,250.3 L481.9,249.5 L483.0,248.7 L484.1,247.8 L485.0,247.0 L485.9,246.2 L486.6,245.4 L487.2,244.7 L487.6,244.0 L487.8,243.3 L486.2,240.7 L485.4,240.6 L484.5,240.8 L483.6,241.2 L482.6,241.6 L481.6,242.1 L480.6,242.5 L479.6,243.0 L478.6,243.4 L477.6,243.7 L476.8,243.9 L476.1,244.0 L475.4,244.1 L474.7,244.0 L473.9,244.0 L473.0,243.8 L472.0,243.7 L471.1,243.5 L470.2,243.2 L469.2,242.9 L468.3,242.5 L467.4,242.2 L466.6,241.7 L465.8,241.3 L465.1,240.8 L464.4,240.2 L463.6,239.6 L462.7,238.8 L461.9,238.1 L461.1,237.2 L460.4,236.3 L459.6,235.4 L459.0,234.5 L458.4,233.6 L457.8,232.7 L457.4,231.8 L457.1,231.0 L456.8,230.1 L456.5,229.2 L456.3,228.1 L456.2,226.9 L456.0,225.7 L456.0,224.5 L455.9,223.2 L455.9,221.9 L456.0,220.6 L456.1,219.3 L456.2,218.0 L456.3,216.8 L456.5,215.7 L456.7,214.5 L456.9,213.3 L457.2,212.2 L457.5,211.0 L457.8,209.8 L458.2,208.7 L458.7,207.6 L459.1,206.5 L459.6,205.5 L460.1,204.6 L460.5,203.7 L461.0,202.9 L461.7,202.1 L462.4,201.2 L463.3,200.3 L464.3,199.4 L465.3,198.5 L466.3,197.6 L467.3,196.7 L468.2,195.9 L469.0,195.0 L469.6,194.2 L469.9,193.2 Z" fill="#d2c9bc" stroke="#d2c9bc" stroke-width="1.5" stroke-linejoin="round"/>
<ellipse cx="494" cy="175.5" rx="15" ry="22" fill="none" stroke="#d2c9bc" stroke-width="9.5" transform="rotate(28 494 175.5)"/>
<path d="M492.6,132.2 L493.4,132.1 L494.1,131.8 L494.7,131.3 L495.3,130.7 L496.0,130.2 L496.6,129.5 L497.3,128.9 L497.9,128.3 L498.5,127.7 L499.0,127.3 L499.5,126.9 L499.9,126.6 L500.3,126.4 L500.8,126.1 L501.3,125.8 L501.8,125.5 L502.3,125.3 L502.8,125.1 L503.3,124.9 L503.8,124.7 L504.3,124.5 L504.8,124.4 L505.3,124.3 L505.8,124.2 L506.2,124.1 L506.7,124.1 L507.3,124.1 L507.9,124.1 L508.5,124.1 L509.2,124.1 L510.0,124.2 L510.7,124.3 L511.5,124.3 L512.4,124.4 L513.2,124.5 L514.1,124.6 L514.9,124.7 L515.8,124.9 L516.8,125.0 L517.9,125.2 L519.0,125.3 L520.1,125.5 L521.1,125.6 L522.2,125.7 L523.1,125.8 L524.0,125.8 L524.8,125.7 L525.6,125.2 L526.4,122.8 L526.1,122.0 L525.5,121.4 L524.9,120.9 L524.1,120.3 L523.2,119.7 L522.2,119.2 L521.2,118.6 L520.1,118.1 L519.1,117.6 L518.0,117.1 L516.9,116.7 L515.9,116.4 L515.0,116.1 L514.1,115.8 L513.2,115.6 L512.3,115.3 L511.4,115.1 L510.4,114.9 L509.4,114.8 L508.4,114.7 L507.4,114.6 L506.4,114.6 L505.3,114.7 L504.2,114.8 L503.2,115.0 L502.2,115.3 L501.3,115.6 L500.4,115.9 L499.5,116.3 L498.6,116.8 L497.8,117.3 L497.0,117.8 L496.2,118.4 L495.5,119.0 L494.8,119.6 L494.1,120.4 L493.4,121.2 L492.7,122.1 L492.2,123.1 L491.7,124.0 L491.3,125.0 L490.9,126.0 L490.6,126.9 L490.3,127.8 L490.2,128.6 L490.1,129.4 L490.1,130.1 L490.4,130.8 Z" fill="#d2c9bc" stroke="#d2c9bc" stroke-width="1.5" stroke-linejoin="round"/>
<path d="M498.2,121.6 L497.7,123.3 L498.0,124.8 L498.5,126.3 L499.2,127.9 L500.0,129.6 L501.1,131.2 L502.4,132.8 L503.6,134.4 L504.9,136.0 L506.2,137.5 L507.4,138.9 L508.6,140.3 L509.6,141.5 L510.7,142.7 L511.8,143.8 L512.9,145.0 L513.9,146.1 L515.0,147.2 L516.0,148.3 L517.1,149.4 L518.1,150.4 L519.2,151.4 L520.2,152.3 L521.2,153.3 L522.3,154.2 L523.3,155.2 L524.4,156.1 L525.6,157.0 L526.7,157.9 L527.7,158.7 L528.8,159.5 L529.8,160.2 L530.7,160.8 L531.6,161.3 L532.4,161.6 L533.3,161.7 L534.7,160.3 L534.6,159.4 L534.2,158.6 L533.7,157.7 L533.1,156.8 L532.4,155.8 L531.6,154.8 L530.8,153.7 L530.0,152.6 L529.1,151.5 L528.3,150.4 L527.4,149.4 L526.6,148.3 L525.8,147.3 L524.9,146.2 L524.1,145.1 L523.2,143.9 L522.3,142.8 L521.4,141.6 L520.5,140.5 L519.5,139.3 L518.6,138.1 L517.6,136.8 L516.6,135.6 L515.6,134.3 L514.6,133.0 L513.5,131.6 L512.3,130.1 L511.0,128.5 L509.8,126.9 L508.5,125.4 L507.1,124.0 L505.7,122.7 L504.3,121.7 L502.9,120.8 L501.6,120.3 L499.8,120.4 Z" fill="#d2c9bc" stroke="#d2c9bc" stroke-width="1.5" stroke-linejoin="round"/>
<path d="M526.8,123.4 L527.1,122.3 L526.9,121.2 L526.5,120.0 L526.0,118.8 L525.4,117.5 L524.8,116.1 L524.2,114.8 L523.6,113.6 L523.1,112.4 L522.7,111.4 L522.5,110.6 L522.4,110.0 L522.4,109.4 L522.4,108.7 L522.4,108.0 L522.5,107.4 L522.6,106.7 L522.8,106.0 L523.0,105.4 L523.2,104.9 L523.4,104.4 L523.6,104.1 L523.8,103.8 L524.0,103.7 L524.2,103.5 L524.5,103.3 L525.0,103.1 L525.7,102.9 L526.4,102.7 L527.3,102.5 L528.2,102.4 L529.2,102.3 L530.2,102.3 L531.2,102.3 L532.3,102.3 L533.4,102.4 L534.5,102.6 L535.6,102.8 L536.9,103.0 L538.2,103.4 L539.6,103.7 L541.1,104.2 L542.5,104.6 L543.9,105.1 L545.4,105.6 L546.8,106.1 L548.1,106.7 L549.4,107.2 L550.6,107.7 L551.8,108.3 L553.2,109.0 L554.5,109.7 L555.8,110.5 L557.1,111.2 L558.4,111.9 L559.6,112.6 L560.8,113.2 L561.9,113.7 L562.8,114.1 L563.8,114.1 L565.0,112.5 L564.7,111.6 L564.1,110.8 L563.4,109.9 L562.5,108.9 L561.5,107.9 L560.4,106.8 L559.2,105.8 L558.0,104.7 L556.7,103.6 L555.3,102.6 L554.0,101.7 L552.6,100.8 L551.3,100.1 L549.9,99.3 L548.5,98.5 L547.0,97.8 L545.4,97.1 L543.9,96.4 L542.3,95.8 L540.8,95.2 L539.2,94.7 L537.6,94.2 L536.1,93.9 L534.6,93.6 L533.2,93.4 L531.7,93.2 L530.3,93.2 L528.8,93.1 L527.4,93.2 L526.0,93.3 L524.6,93.5 L523.2,93.8 L521.9,94.3 L520.5,94.8 L519.2,95.5 L518.0,96.3 L516.9,97.4 L516.0,98.5 L515.2,99.7 L514.5,101.0 L514.0,102.3 L513.6,103.6 L513.3,105.0 L513.1,106.4 L513.1,107.7 L513.1,109.1 L513.3,110.5 L513.6,112.0 L514.1,113.6 L514.9,115.0 L515.7,116.4 L516.7,117.8 L517.8,119.0 L518.9,120.2 L520.0,121.3 L521.1,122.3 L522.1,123.2 L523.1,123.9 L524.0,124.4 L525.2,124.6 Z" fill="#d2c9bc" stroke="#d2c9bc" stroke-width="1.5" stroke-linejoin="round"/>
</g>
</svg></body></html>
